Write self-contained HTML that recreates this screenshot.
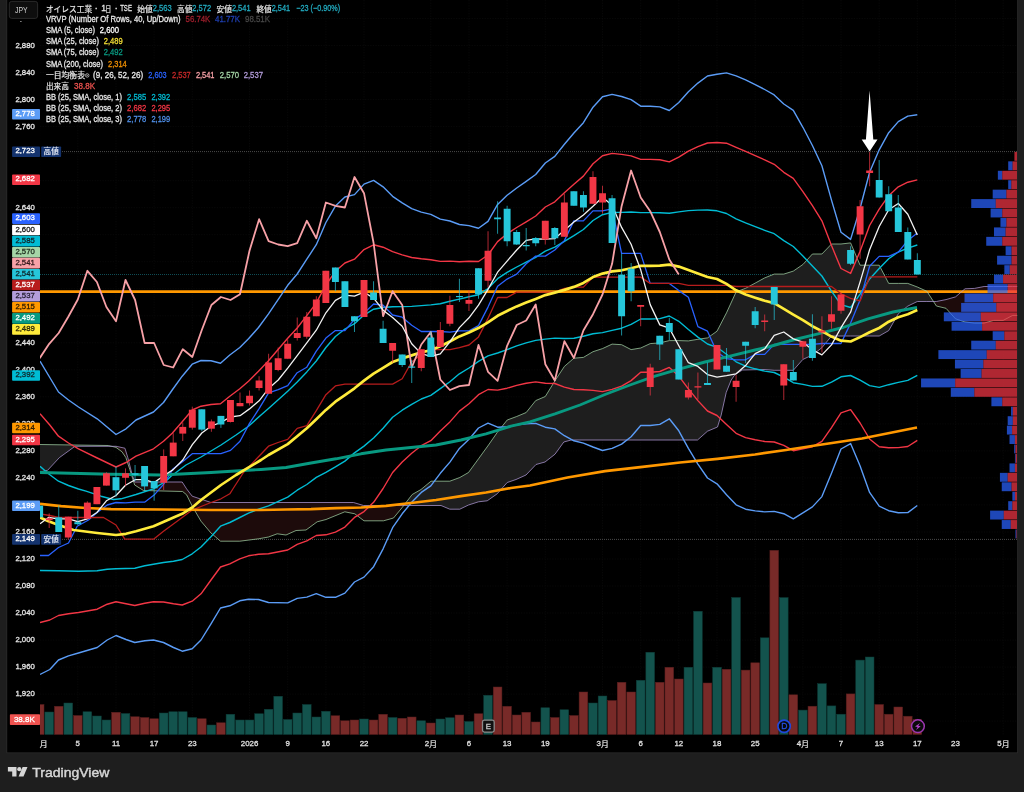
<!DOCTYPE html><html><head><meta charset="utf-8"><title>chart</title><style>html,body{margin:0;padding:0;background:#1e1e1e;overflow:hidden}body{width:1024px;height:792px}</style></head><body><svg width="1024" height="792" viewBox="0 0 1024 792" style="display:block;will-change:transform;font-family:'Liberation Sans',sans-serif"><defs><clipPath id="pane"><rect x="40.0" y="0" width="977.2" height="735.0"/></clipPath></defs><rect width="1024" height="792" fill="#1e1e1e"/><rect x="6.4" y="-1" width="1011.6" height="754.2" fill="#2b2b2b"/><rect x="7.2" y="-1" width="1010.0" height="753.4" fill="#000"/><g clip-path="url(#pane)"><line x1="39.7" x2="39.7" y1="0" y2="735.0" stroke="#0b0b0b" stroke-width="0.7" stroke-dasharray="1.3 1.3"/><line x1="77.8" x2="77.8" y1="0" y2="735.0" stroke="#0b0b0b" stroke-width="0.7" stroke-dasharray="1.3 1.3"/><line x1="116.0" x2="116.0" y1="0" y2="735.0" stroke="#0b0b0b" stroke-width="0.7" stroke-dasharray="1.3 1.3"/><line x1="154.1" x2="154.1" y1="0" y2="735.0" stroke="#0b0b0b" stroke-width="0.7" stroke-dasharray="1.3 1.3"/><line x1="192.3" x2="192.3" y1="0" y2="735.0" stroke="#0b0b0b" stroke-width="0.7" stroke-dasharray="1.3 1.3"/><line x1="249.5" x2="249.5" y1="0" y2="735.0" stroke="#0b0b0b" stroke-width="0.7" stroke-dasharray="1.3 1.3"/><line x1="287.7" x2="287.7" y1="0" y2="735.0" stroke="#0b0b0b" stroke-width="0.7" stroke-dasharray="1.3 1.3"/><line x1="325.9" x2="325.9" y1="0" y2="735.0" stroke="#0b0b0b" stroke-width="0.7" stroke-dasharray="1.3 1.3"/><line x1="364.0" x2="364.0" y1="0" y2="735.0" stroke="#0b0b0b" stroke-width="0.7" stroke-dasharray="1.3 1.3"/><line x1="430.8" x2="430.8" y1="0" y2="735.0" stroke="#0b0b0b" stroke-width="0.7" stroke-dasharray="1.3 1.3"/><line x1="469.0" x2="469.0" y1="0" y2="735.0" stroke="#0b0b0b" stroke-width="0.7" stroke-dasharray="1.3 1.3"/><line x1="507.1" x2="507.1" y1="0" y2="735.0" stroke="#0b0b0b" stroke-width="0.7" stroke-dasharray="1.3 1.3"/><line x1="545.3" x2="545.3" y1="0" y2="735.0" stroke="#0b0b0b" stroke-width="0.7" stroke-dasharray="1.3 1.3"/><line x1="602.5" x2="602.5" y1="0" y2="735.0" stroke="#0b0b0b" stroke-width="0.7" stroke-dasharray="1.3 1.3"/><line x1="640.7" x2="640.7" y1="0" y2="735.0" stroke="#0b0b0b" stroke-width="0.7" stroke-dasharray="1.3 1.3"/><line x1="678.8" x2="678.8" y1="0" y2="735.0" stroke="#0b0b0b" stroke-width="0.7" stroke-dasharray="1.3 1.3"/><line x1="717.0" x2="717.0" y1="0" y2="735.0" stroke="#0b0b0b" stroke-width="0.7" stroke-dasharray="1.3 1.3"/><line x1="755.2" x2="755.2" y1="0" y2="735.0" stroke="#0b0b0b" stroke-width="0.7" stroke-dasharray="1.3 1.3"/><line x1="802.9" x2="802.9" y1="0" y2="735.0" stroke="#0b0b0b" stroke-width="0.7" stroke-dasharray="1.3 1.3"/><line x1="841.0" x2="841.0" y1="0" y2="735.0" stroke="#0b0b0b" stroke-width="0.7" stroke-dasharray="1.3 1.3"/><line x1="879.2" x2="879.2" y1="0" y2="735.0" stroke="#0b0b0b" stroke-width="0.7" stroke-dasharray="1.3 1.3"/><line x1="917.3" x2="917.3" y1="0" y2="735.0" stroke="#0b0b0b" stroke-width="0.7" stroke-dasharray="1.3 1.3"/><line x1="955.5" x2="955.5" y1="0" y2="735.0" stroke="#0b0b0b" stroke-width="0.7" stroke-dasharray="1.3 1.3"/><line x1="1003.2" x2="1003.2" y1="0" y2="735.0" stroke="#0b0b0b" stroke-width="0.7" stroke-dasharray="1.3 1.3"/><line x1="40.0" x2="1017.2" y1="721.1" y2="721.1" stroke="#0b0b0b" stroke-width="0.7" stroke-dasharray="1.3 1.3"/><line x1="40.0" x2="1017.2" y1="694.1" y2="694.1" stroke="#0b0b0b" stroke-width="0.7" stroke-dasharray="1.3 1.3"/><line x1="40.0" x2="1017.2" y1="667.1" y2="667.1" stroke="#0b0b0b" stroke-width="0.7" stroke-dasharray="1.3 1.3"/><line x1="40.0" x2="1017.2" y1="640.1" y2="640.1" stroke="#0b0b0b" stroke-width="0.7" stroke-dasharray="1.3 1.3"/><line x1="40.0" x2="1017.2" y1="613.0" y2="613.0" stroke="#0b0b0b" stroke-width="0.7" stroke-dasharray="1.3 1.3"/><line x1="40.0" x2="1017.2" y1="586.0" y2="586.0" stroke="#0b0b0b" stroke-width="0.7" stroke-dasharray="1.3 1.3"/><line x1="40.0" x2="1017.2" y1="559.0" y2="559.0" stroke="#0b0b0b" stroke-width="0.7" stroke-dasharray="1.3 1.3"/><line x1="40.0" x2="1017.2" y1="532.0" y2="532.0" stroke="#0b0b0b" stroke-width="0.7" stroke-dasharray="1.3 1.3"/><line x1="40.0" x2="1017.2" y1="504.9" y2="504.9" stroke="#0b0b0b" stroke-width="0.7" stroke-dasharray="1.3 1.3"/><line x1="40.0" x2="1017.2" y1="477.9" y2="477.9" stroke="#0b0b0b" stroke-width="0.7" stroke-dasharray="1.3 1.3"/><line x1="40.0" x2="1017.2" y1="450.9" y2="450.9" stroke="#0b0b0b" stroke-width="0.7" stroke-dasharray="1.3 1.3"/><line x1="40.0" x2="1017.2" y1="423.9" y2="423.9" stroke="#0b0b0b" stroke-width="0.7" stroke-dasharray="1.3 1.3"/><line x1="40.0" x2="1017.2" y1="396.8" y2="396.8" stroke="#0b0b0b" stroke-width="0.7" stroke-dasharray="1.3 1.3"/><line x1="40.0" x2="1017.2" y1="369.8" y2="369.8" stroke="#0b0b0b" stroke-width="0.7" stroke-dasharray="1.3 1.3"/><line x1="40.0" x2="1017.2" y1="342.8" y2="342.8" stroke="#0b0b0b" stroke-width="0.7" stroke-dasharray="1.3 1.3"/><line x1="40.0" x2="1017.2" y1="315.8" y2="315.8" stroke="#0b0b0b" stroke-width="0.7" stroke-dasharray="1.3 1.3"/><line x1="40.0" x2="1017.2" y1="288.7" y2="288.7" stroke="#0b0b0b" stroke-width="0.7" stroke-dasharray="1.3 1.3"/><line x1="40.0" x2="1017.2" y1="261.7" y2="261.7" stroke="#0b0b0b" stroke-width="0.7" stroke-dasharray="1.3 1.3"/><line x1="40.0" x2="1017.2" y1="234.7" y2="234.7" stroke="#0b0b0b" stroke-width="0.7" stroke-dasharray="1.3 1.3"/><line x1="40.0" x2="1017.2" y1="207.7" y2="207.7" stroke="#0b0b0b" stroke-width="0.7" stroke-dasharray="1.3 1.3"/><line x1="40.0" x2="1017.2" y1="180.7" y2="180.7" stroke="#0b0b0b" stroke-width="0.7" stroke-dasharray="1.3 1.3"/><line x1="40.0" x2="1017.2" y1="153.6" y2="153.6" stroke="#0b0b0b" stroke-width="0.7" stroke-dasharray="1.3 1.3"/><line x1="40.0" x2="1017.2" y1="126.6" y2="126.6" stroke="#0b0b0b" stroke-width="0.7" stroke-dasharray="1.3 1.3"/><line x1="40.0" x2="1017.2" y1="99.6" y2="99.6" stroke="#0b0b0b" stroke-width="0.7" stroke-dasharray="1.3 1.3"/><line x1="40.0" x2="1017.2" y1="72.6" y2="72.6" stroke="#0b0b0b" stroke-width="0.7" stroke-dasharray="1.3 1.3"/><line x1="40.0" x2="1017.2" y1="45.5" y2="45.5" stroke="#0b0b0b" stroke-width="0.7" stroke-dasharray="1.3 1.3"/><line x1="40.0" x2="1017.2" y1="18.5" y2="18.5" stroke="#0b0b0b" stroke-width="0.7" stroke-dasharray="1.3 1.3"/><line x1="62" x2="1017.2" y1="151.6" y2="151.6" stroke="#6a6a6a" stroke-width="0.8" stroke-dasharray="0.9 1.1"/><line x1="62" x2="1017.2" y1="539.4" y2="539.4" stroke="#6a6a6a" stroke-width="0.8" stroke-dasharray="0.9 1.1"/><line x1="40.0" x2="1017.2" y1="274.5" y2="274.5" stroke="#26c6da" stroke-opacity="0.55" stroke-width="0.8" stroke-dasharray="0.9 1.1"/><path d="M40.0,444.5 L47.6,444.6 L59.4,444.8 L75.0,445.0 L108.3,445.5 L111.5,446.3 L111.5,446.3 L108.3,446.3 L75.0,446.3 L59.4,457.6 L47.6,470.3 L40.0,472.0Z" fill="#1e1e1e"/><path d="M111.5,446.3 L116.0,447.4 L122.0,451.8 L124.9,456.1 L125.9,457.6 L127.8,463.3 L129.8,469.4 L131.8,475.8 L134.7,485.0 L143.5,490.5 L182.2,491.5 L182.6,491.5 L186.6,494.8 L192.2,506.2 L192.4,506.5 L201.0,521.2 L211.0,533.0 L220.5,541.2 L239.8,541.2 L258.5,538.8 L268.5,537.0 L277.2,533.8 L286.0,535.0 L296.0,530.5 L306.0,530.0 L317.2,521.8 L326.0,519.5 L344.8,511.8 L353.5,513.5 L354.8,513.8 L363.5,520.4 L364.0,520.8 L383.5,520.8 L393.5,518.0 L402.2,507.5 L403.8,505.5 L403.8,505.5 L402.2,505.5 L393.5,505.5 L383.5,505.5 L364.0,505.5 L363.5,505.5 L354.8,502.9 L353.5,502.5 L344.8,502.5 L326.0,502.5 L317.2,502.5 L306.0,502.5 L296.0,502.5 L286.0,502.5 L277.2,502.5 L268.5,502.5 L258.5,502.5 L239.8,502.5 L220.5,502.5 L211.0,502.5 L201.0,499.2 L192.4,496.3 L192.2,496.2 L186.6,488.9 L182.6,482.6 L182.2,482.0 L143.5,482.0 L134.7,482.0 L131.8,473.3 L129.8,465.5 L127.8,457.6 L125.9,451.4 L124.9,448.2 L122.0,447.6 L116.0,446.3 L111.5,446.3Z" fill="#1d0b0b"/><path d="M403.8,505.5 L412.2,494.5 L421.0,489.5 L431.0,481.2 L441.0,481.2 L449.8,481.2 L459.8,477.5 L468.5,472.5 L478.5,458.8 L487.2,446.7 L488.5,445.0 L497.2,432.5 L507.2,420.0 L516.0,416.8 L516.7,416.5 L526.0,412.6 L526.2,412.5 L535.7,400.6 L536.0,400.5 L545.0,396.6 L545.3,396.5 L554.8,381.0 L555.0,380.7 L563.8,367.4 L564.4,366.4 L571.2,360.5 L573.9,358.2 L583.4,357.4 L593.0,351.7 L602.5,348.6 L612.1,344.1 L621.6,344.7 L631.1,349.6 L640.7,348.0 L650.2,343.6 L659.8,342.9 L669.3,340.6 L678.8,340.6 L688.4,340.9 L697.5,339.4 L697.9,339.3 L707.5,337.9 L707.5,337.9 L717.0,331.2 L717.5,330.3 L721.2,323.0 L726.2,313.3 L726.5,312.8 L731.2,302.4 L735.0,294.2 L736.1,291.9 L742.5,289.5 L745.6,288.3 L755.2,283.1 L764.0,278.3 L764.7,277.9 L774.2,274.1 L783.8,274.1 L793.3,271.1 L802.9,264.5 L812.4,254.0 L821.9,254.0 L831.5,244.0 L841.0,244.0 L850.6,242.9 L860.1,265.2 L869.6,265.2 L879.2,265.2 L888.7,283.4 L898.3,283.4 L907.8,283.4 L917.3,287.0 L926.9,291.3 L933.5,301.5 L933.5,301.5 L926.9,301.5 L917.3,301.5 L907.8,306.1 L898.3,313.8 L888.7,330.6 L879.2,336.0 L869.6,336.0 L860.1,336.0 L850.6,336.0 L841.0,336.0 L831.5,336.0 L821.9,347.7 L812.4,355.0 L802.9,359.4 L793.3,370.3 L783.8,370.3 L774.2,370.3 L764.7,369.6 L764.0,369.5 L755.2,369.7 L745.6,369.9 L742.5,370.0 L736.1,373.9 L735.0,374.5 L731.2,380.0 L726.5,391.8 L726.2,392.5 L721.2,415.0 L717.5,427.0 L717.0,427.2 L707.5,431.2 L707.5,431.3 L697.9,439.6 L697.5,440.0 L688.4,440.0 L678.8,440.0 L669.3,440.0 L659.8,440.0 L650.2,440.0 L640.7,440.0 L631.1,440.0 L621.6,440.0 L612.1,440.0 L602.5,440.0 L593.0,440.0 L583.4,440.0 L573.9,440.0 L571.2,440.0 L564.4,441.8 L563.8,442.0 L555.0,454.2 L554.8,454.4 L545.3,461.8 L545.0,462.0 L536.0,464.5 L535.7,464.8 L526.2,474.8 L526.0,475.0 L516.7,479.2 L516.0,479.5 L507.2,482.5 L497.2,493.8 L488.5,499.9 L487.2,500.8 L478.5,501.8 L468.5,505.0 L459.8,509.2 L449.8,509.2 L441.0,505.5 L431.0,505.5 L421.0,505.5 L412.2,505.5 L403.8,505.5Z" fill="#1e1e1e"/><path d="M933.5,301.5 L936.4,306.0 L946.0,308.3 L955.5,318.8 L965.0,322.0 L974.6,323.1 L984.1,323.1 L993.7,320.4 L1003.2,320.4 L1012.7,315.4 L1022.3,315.4 L1022.3,286.5 L1012.7,286.5 L1003.2,286.5 L993.7,286.5 L984.1,286.5 L974.6,288.4 L965.0,288.8 L955.5,296.9 L946.0,299.6 L936.4,301.5 L933.5,301.5Z" fill="#1d0b0b"/><rect x="35.31" y="704.50" width="8.7" height="30.00" fill="#782a28" stroke="#541d1c" stroke-width="0.5"/><rect x="44.85" y="712.00" width="8.7" height="22.50" fill="#13534d" stroke="#0d3a36" stroke-width="0.5"/><rect x="54.39" y="706.25" width="8.7" height="28.25" fill="#782a28" stroke="#541d1c" stroke-width="0.5"/><rect x="63.93" y="703.00" width="8.7" height="31.50" fill="#13534d" stroke="#0d3a36" stroke-width="0.5"/><rect x="73.47" y="715.50" width="8.7" height="19.00" fill="#782a28" stroke="#541d1c" stroke-width="0.5"/><rect x="83.01" y="711.75" width="8.7" height="22.75" fill="#13534d" stroke="#0d3a36" stroke-width="0.5"/><rect x="92.55" y="716.00" width="8.7" height="18.50" fill="#13534d" stroke="#0d3a36" stroke-width="0.5"/><rect x="102.09" y="720.00" width="8.7" height="14.50" fill="#13534d" stroke="#0d3a36" stroke-width="0.5"/><rect x="111.63" y="712.25" width="8.7" height="22.25" fill="#782a28" stroke="#541d1c" stroke-width="0.5"/><rect x="121.17" y="713.50" width="8.7" height="21.00" fill="#13534d" stroke="#0d3a36" stroke-width="0.5"/><rect x="130.71" y="716.75" width="8.7" height="17.75" fill="#782a28" stroke="#541d1c" stroke-width="0.5"/><rect x="140.25" y="717.50" width="8.7" height="17.00" fill="#782a28" stroke="#541d1c" stroke-width="0.5"/><rect x="149.79" y="718.75" width="8.7" height="15.75" fill="#782a28" stroke="#541d1c" stroke-width="0.5"/><rect x="159.33" y="713.00" width="8.7" height="21.50" fill="#13534d" stroke="#0d3a36" stroke-width="0.5"/><rect x="168.87" y="711.75" width="8.7" height="22.75" fill="#13534d" stroke="#0d3a36" stroke-width="0.5"/><rect x="178.41" y="711.75" width="8.7" height="22.75" fill="#13534d" stroke="#0d3a36" stroke-width="0.5"/><rect x="187.95" y="717.50" width="8.7" height="17.00" fill="#13534d" stroke="#0d3a36" stroke-width="0.5"/><rect x="197.49" y="718.75" width="8.7" height="15.75" fill="#782a28" stroke="#541d1c" stroke-width="0.5"/><rect x="207.03" y="725.00" width="8.7" height="9.50" fill="#13534d" stroke="#0d3a36" stroke-width="0.5"/><rect x="216.57" y="722.75" width="8.7" height="11.75" fill="#782a28" stroke="#541d1c" stroke-width="0.5"/><rect x="226.11" y="714.25" width="8.7" height="20.25" fill="#13534d" stroke="#0d3a36" stroke-width="0.5"/><rect x="235.65" y="720.00" width="8.7" height="14.50" fill="#13534d" stroke="#0d3a36" stroke-width="0.5"/><rect x="245.19" y="720.00" width="8.7" height="14.50" fill="#13534d" stroke="#0d3a36" stroke-width="0.5"/><rect x="254.73" y="713.75" width="8.7" height="20.75" fill="#13534d" stroke="#0d3a36" stroke-width="0.5"/><rect x="264.27" y="709.25" width="8.7" height="25.25" fill="#13534d" stroke="#0d3a36" stroke-width="0.5"/><rect x="273.81" y="696.25" width="8.7" height="38.25" fill="#13534d" stroke="#0d3a36" stroke-width="0.5"/><rect x="283.35" y="719.50" width="8.7" height="15.00" fill="#13534d" stroke="#0d3a36" stroke-width="0.5"/><rect x="292.89" y="713.00" width="8.7" height="21.50" fill="#13534d" stroke="#0d3a36" stroke-width="0.5"/><rect x="302.43" y="704.50" width="8.7" height="30.00" fill="#13534d" stroke="#0d3a36" stroke-width="0.5"/><rect x="311.97" y="717.00" width="8.7" height="17.50" fill="#13534d" stroke="#0d3a36" stroke-width="0.5"/><rect x="321.51" y="711.25" width="8.7" height="23.25" fill="#13534d" stroke="#0d3a36" stroke-width="0.5"/><rect x="331.05" y="715.75" width="8.7" height="18.75" fill="#782a28" stroke="#541d1c" stroke-width="0.5"/><rect x="340.59" y="720.75" width="8.7" height="13.75" fill="#782a28" stroke="#541d1c" stroke-width="0.5"/><rect x="350.13" y="720.00" width="8.7" height="14.50" fill="#782a28" stroke="#541d1c" stroke-width="0.5"/><rect x="359.67" y="719.00" width="8.7" height="15.50" fill="#13534d" stroke="#0d3a36" stroke-width="0.5"/><rect x="369.21" y="720.00" width="8.7" height="14.50" fill="#782a28" stroke="#541d1c" stroke-width="0.5"/><rect x="378.75" y="714.25" width="8.7" height="20.25" fill="#782a28" stroke="#541d1c" stroke-width="0.5"/><rect x="388.29" y="717.50" width="8.7" height="17.00" fill="#13534d" stroke="#0d3a36" stroke-width="0.5"/><rect x="397.83" y="718.25" width="8.7" height="16.25" fill="#782a28" stroke="#541d1c" stroke-width="0.5"/><rect x="407.37" y="717.00" width="8.7" height="17.50" fill="#782a28" stroke="#541d1c" stroke-width="0.5"/><rect x="416.91" y="720.75" width="8.7" height="13.75" fill="#13534d" stroke="#0d3a36" stroke-width="0.5"/><rect x="426.45" y="723.00" width="8.7" height="11.50" fill="#782a28" stroke="#541d1c" stroke-width="0.5"/><rect x="435.99" y="719.00" width="8.7" height="15.50" fill="#13534d" stroke="#0d3a36" stroke-width="0.5"/><rect x="445.53" y="717.75" width="8.7" height="16.75" fill="#13534d" stroke="#0d3a36" stroke-width="0.5"/><rect x="455.07" y="715.00" width="8.7" height="19.50" fill="#782a28" stroke="#541d1c" stroke-width="0.5"/><rect x="464.61" y="721.50" width="8.7" height="13.00" fill="#13534d" stroke="#0d3a36" stroke-width="0.5"/><rect x="474.15" y="713.75" width="8.7" height="20.75" fill="#782a28" stroke="#541d1c" stroke-width="0.5"/><rect x="483.69" y="695.25" width="8.7" height="39.25" fill="#13534d" stroke="#0d3a36" stroke-width="0.5"/><rect x="493.23" y="687.00" width="8.7" height="47.50" fill="#782a28" stroke="#541d1c" stroke-width="0.5"/><rect x="502.77" y="706.25" width="8.7" height="28.25" fill="#782a28" stroke="#541d1c" stroke-width="0.5"/><rect x="512.31" y="715.00" width="8.7" height="19.50" fill="#782a28" stroke="#541d1c" stroke-width="0.5"/><rect x="521.85" y="712.25" width="8.7" height="22.25" fill="#782a28" stroke="#541d1c" stroke-width="0.5"/><rect x="531.39" y="722.00" width="8.7" height="12.50" fill="#782a28" stroke="#541d1c" stroke-width="0.5"/><rect x="540.93" y="707.75" width="8.7" height="26.75" fill="#13534d" stroke="#0d3a36" stroke-width="0.5"/><rect x="550.47" y="717.50" width="8.7" height="17.00" fill="#782a28" stroke="#541d1c" stroke-width="0.5"/><rect x="560.01" y="709.75" width="8.7" height="24.75" fill="#13534d" stroke="#0d3a36" stroke-width="0.5"/><rect x="569.55" y="715.50" width="8.7" height="19.00" fill="#782a28" stroke="#541d1c" stroke-width="0.5"/><rect x="579.09" y="692.00" width="8.7" height="42.50" fill="#782a28" stroke="#541d1c" stroke-width="0.5"/><rect x="588.63" y="703.00" width="8.7" height="31.50" fill="#13534d" stroke="#0d3a36" stroke-width="0.5"/><rect x="598.17" y="696.00" width="8.7" height="38.50" fill="#13534d" stroke="#0d3a36" stroke-width="0.5"/><rect x="607.71" y="700.50" width="8.7" height="34.00" fill="#782a28" stroke="#541d1c" stroke-width="0.5"/><rect x="617.25" y="682.25" width="8.7" height="52.25" fill="#782a28" stroke="#541d1c" stroke-width="0.5"/><rect x="626.79" y="692.00" width="8.7" height="42.50" fill="#782a28" stroke="#541d1c" stroke-width="0.5"/><rect x="636.33" y="680.25" width="8.7" height="54.25" fill="#13534d" stroke="#0d3a36" stroke-width="0.5"/><rect x="645.87" y="652.25" width="8.7" height="82.25" fill="#13534d" stroke="#0d3a36" stroke-width="0.5"/><rect x="655.41" y="682.25" width="8.7" height="52.25" fill="#782a28" stroke="#541d1c" stroke-width="0.5"/><rect x="664.95" y="667.25" width="8.7" height="67.25" fill="#782a28" stroke="#541d1c" stroke-width="0.5"/><rect x="674.49" y="679.00" width="8.7" height="55.50" fill="#782a28" stroke="#541d1c" stroke-width="0.5"/><rect x="684.03" y="667.25" width="8.7" height="67.25" fill="#13534d" stroke="#0d3a36" stroke-width="0.5"/><rect x="693.57" y="611.25" width="8.7" height="123.25" fill="#13534d" stroke="#0d3a36" stroke-width="0.5"/><rect x="703.11" y="683.00" width="8.7" height="51.50" fill="#782a28" stroke="#541d1c" stroke-width="0.5"/><rect x="712.65" y="667.25" width="8.7" height="67.25" fill="#13534d" stroke="#0d3a36" stroke-width="0.5"/><rect x="722.19" y="669.25" width="8.7" height="65.25" fill="#782a28" stroke="#541d1c" stroke-width="0.5"/><rect x="731.73" y="597.50" width="8.7" height="137.00" fill="#13534d" stroke="#0d3a36" stroke-width="0.5"/><rect x="741.27" y="670.10" width="8.7" height="64.40" fill="#782a28" stroke="#541d1c" stroke-width="0.5"/><rect x="750.81" y="662.80" width="8.7" height="71.70" fill="#782a28" stroke="#541d1c" stroke-width="0.5"/><rect x="760.35" y="637.80" width="8.7" height="96.70" fill="#13534d" stroke="#0d3a36" stroke-width="0.5"/><rect x="769.89" y="550.30" width="8.7" height="184.20" fill="#782a28" stroke="#541d1c" stroke-width="0.5"/><rect x="779.43" y="597.60" width="8.7" height="136.90" fill="#13534d" stroke="#0d3a36" stroke-width="0.5"/><rect x="788.97" y="694.80" width="8.7" height="39.70" fill="#782a28" stroke="#541d1c" stroke-width="0.5"/><rect x="798.51" y="710.10" width="8.7" height="24.40" fill="#13534d" stroke="#0d3a36" stroke-width="0.5"/><rect x="808.05" y="706.20" width="8.7" height="28.30" fill="#782a28" stroke="#541d1c" stroke-width="0.5"/><rect x="817.59" y="683.70" width="8.7" height="50.80" fill="#13534d" stroke="#0d3a36" stroke-width="0.5"/><rect x="827.13" y="705.90" width="8.7" height="28.60" fill="#13534d" stroke="#0d3a36" stroke-width="0.5"/><rect x="836.67" y="714.20" width="8.7" height="20.30" fill="#13534d" stroke="#0d3a36" stroke-width="0.5"/><rect x="846.21" y="693.90" width="8.7" height="40.60" fill="#782a28" stroke="#541d1c" stroke-width="0.5"/><rect x="855.75" y="660.10" width="8.7" height="74.40" fill="#13534d" stroke="#0d3a36" stroke-width="0.5"/><rect x="865.29" y="657.00" width="8.7" height="77.50" fill="#13534d" stroke="#0d3a36" stroke-width="0.5"/><rect x="874.83" y="704.50" width="8.7" height="30.00" fill="#782a28" stroke="#541d1c" stroke-width="0.5"/><rect x="884.37" y="714.20" width="8.7" height="20.30" fill="#782a28" stroke="#541d1c" stroke-width="0.5"/><rect x="893.91" y="707.00" width="8.7" height="27.50" fill="#782a28" stroke="#541d1c" stroke-width="0.5"/><rect x="903.45" y="716.20" width="8.7" height="18.30" fill="#782a28" stroke="#541d1c" stroke-width="0.5"/><rect x="912.99" y="719.50" width="8.7" height="15.00" fill="#782a28" stroke="#541d1c" stroke-width="0.5"/><line x1="40.0" x2="1017.2" y1="291.6" y2="291.6" stroke="#ff9800" stroke-width="2.7"/><path d="M40.0,444.5 L108.3,445.5 L116.0,447.4 L122.0,451.8 L125.9,457.6 L129.8,469.4 L134.7,485.0 L143.5,490.5 L182.6,491.5 L186.6,494.8 L192.4,506.5 L201.0,521.2 L211.0,533.0 L220.5,541.2 L239.8,541.2 L258.5,538.8 L268.5,537.0 L277.2,533.8 L286.0,535.0 L296.0,530.5 L306.0,530.0 L317.2,521.8 L326.0,519.5 L344.8,511.8 L354.8,513.8 L364.0,520.8 L383.5,520.8 L393.5,518.0 L402.2,507.5 L412.2,494.5 L421.0,489.5 L431.0,481.2 L449.8,481.2 L459.8,477.5 L468.5,472.5 L478.5,458.8 L488.5,445.0 L497.2,432.5 L507.2,420.0 L516.7,416.5 L526.2,412.5 L535.7,400.6 L545.3,396.5 L554.8,381.0 L564.4,366.4 L573.9,358.2 L583.4,357.4 L593.0,351.7 L602.5,348.6 L612.1,344.1 L621.6,344.7 L631.1,349.6 L640.7,348.0 L650.2,343.6 L659.8,342.9 L669.3,340.6 L678.8,340.6 L688.4,340.9 L697.9,339.3 L707.5,337.9 L717.0,331.2 L726.5,312.8 L736.1,291.9 L745.6,288.3 L755.2,283.1 L764.7,277.9 L774.2,274.1 L783.8,274.1 L793.3,271.1 L802.9,264.5 L812.4,254.0 L821.9,254.0 L831.5,244.0 L841.0,244.0 L850.6,242.9 L860.1,265.2 L869.6,265.2 L879.2,265.2 L888.7,283.4 L898.3,283.4 L907.8,283.4 L917.3,287.0 L926.9,291.3 L936.4,306.0 L946.0,308.3 L955.5,318.8 L965.0,322.0 L974.6,323.1 L984.1,323.1 L993.7,320.4 L1003.2,320.4 L1012.7,315.4 L1022.3,315.4" fill="none" stroke="#a5d6a7" stroke-width="1.0" stroke-linejoin="round" stroke-linecap="butt" opacity="0.72"/><path d="M40.0,472.0 L47.6,470.3 L59.4,457.6 L75.0,446.3 L116.0,446.3 L124.9,448.2 L127.8,457.6 L131.8,473.3 L134.7,482.0 L182.2,482.0 L186.6,488.9 L192.2,496.2 L211.0,502.5 L353.5,502.5 L363.5,505.5 L441.0,505.5 L449.8,509.2 L459.8,509.2 L468.5,505.0 L478.5,501.8 L487.2,500.8 L497.2,493.8 L507.2,482.5 L516.0,479.5 L526.0,475.0 L536.0,464.5 L545.0,462.0 L555.0,454.2 L563.8,442.0 L571.2,440.0 L697.5,440.0 L707.5,431.2 L717.5,427.0 L721.2,415.0 L726.2,392.5 L731.2,380.0 L735.0,374.5 L742.5,370.0 L764.0,369.5 L774.2,370.3 L783.8,370.3 L793.3,370.3 L802.9,359.4 L812.4,355.0 L821.9,347.7 L831.5,336.0 L841.0,336.0 L850.6,336.0 L860.1,336.0 L869.6,336.0 L879.2,336.0 L888.7,330.6 L898.3,313.8 L907.8,306.1 L917.3,301.5 L926.9,301.5 L936.4,301.5 L946.0,299.6 L955.5,296.9 L965.0,288.8 L974.6,288.4 L984.1,286.5 L993.7,286.5 L1003.2,286.5 L1012.7,286.5 L1022.3,286.5" fill="none" stroke="#b39ddb" stroke-width="1.0" stroke-linejoin="round" stroke-linecap="butt" opacity="0.72"/><path d="M40.0,361.2 L49.8,377.5 L58.5,392.0 L68.5,400.0 L78.5,407.0 L97.2,418.8 L116.0,434.5 L126.0,428.8 L136.0,420.0 L153.5,412.0 L163.5,402.5 L172.2,390.0 L182.2,376.2 L192.2,364.2 L201.0,360.5 L211.0,360.8 L220.5,363.2 L229.8,355.0 L239.8,347.5 L248.5,338.8 L258.5,327.5 L268.5,313.8 L287.7,285.3 L297.2,274.0 L306.8,259.2 L316.3,244.7 L325.9,222.5 L335.4,206.1 L344.9,197.0 L354.5,194.6 L364.0,184.1 L373.6,180.4 L383.1,186.8 L392.6,196.3 L402.2,202.9 L411.7,208.6 L421.3,212.1 L430.8,214.4 L440.3,219.1 L449.9,221.0 L459.4,224.5 L469.0,225.6 L478.5,228.2 L488.0,221.4 L497.6,204.4 L507.1,195.2 L516.7,188.0 L526.2,181.4 L535.7,174.5 L545.3,163.0 L554.8,156.4 L564.4,144.2 L573.9,133.0 L583.4,122.7 L593.0,107.2 L602.5,96.8 L612.1,94.4 L621.6,96.5 L631.1,99.7 L640.7,106.2 L650.2,106.2 L659.8,106.9 L669.3,110.5 L678.8,102.5 L688.4,91.7 L697.9,83.1 L707.5,76.0 L717.0,74.3 L726.5,72.9 L736.1,75.8 L745.6,79.8 L755.2,84.6 L764.7,89.5 L774.2,94.9 L783.8,104.0 L793.3,110.3 L802.9,127.3 L812.4,145.5 L821.9,165.7 L831.5,200.1 L841.0,232.3 L850.6,239.4 L860.1,208.2 L869.6,172.2 L879.2,149.8 L888.7,132.7 L898.3,121.6 L907.8,116.1 L917.3,114.7" fill="none" stroke="#5b9cf6" stroke-width="1.4" stroke-linejoin="round" stroke-linecap="butt" /><path d="M40.0,674.5 L49.8,669.5 L58.5,660.0 L68.5,655.8 L78.5,653.0 L97.2,647.5 L107.2,640.0 L116.0,635.5 L126.0,639.5 L134.8,642.5 L144.8,640.8 L153.5,640.0 L163.5,642.5 L173.5,647.5 L182.2,651.2 L192.2,648.8 L201.0,640.0 L211.0,623.8 L220.5,608.0 L229.8,605.8 L239.8,600.8 L248.5,599.2 L258.5,599.5 L268.5,602.5 L287.7,602.9 L297.2,598.4 L306.8,597.1 L316.3,593.7 L325.9,597.3 L335.4,597.3 L344.9,593.1 L354.5,582.0 L364.0,577.1 L373.6,566.7 L383.1,548.8 L392.6,527.7 L402.2,513.8 L411.7,502.2 L421.3,492.4 L430.8,485.9 L440.3,473.3 L449.9,462.1 L459.4,448.4 L469.0,439.3 L478.5,428.0 L488.0,423.2 L497.6,427.2 L507.1,426.8 L516.7,424.8 L526.2,423.7 L535.7,423.4 L545.3,427.2 L554.8,428.9 L564.4,435.7 L573.9,440.8 L583.4,443.1 L593.0,447.0 L602.5,450.5 L612.1,448.4 L621.6,444.1 L631.1,436.8 L640.7,425.5 L650.2,425.5 L659.8,424.4 L669.3,418.8 L678.8,430.8 L688.4,448.3 L697.9,464.1 L707.5,478.0 L717.0,483.8 L726.5,494.8 L736.1,504.8 L745.6,509.2 L755.2,510.9 L764.7,511.9 L774.2,511.4 L783.8,513.7 L793.3,518.8 L802.9,512.9 L812.4,506.9 L821.9,496.6 L831.5,473.2 L841.0,449.0 L850.6,443.6 L860.1,466.0 L869.6,492.4 L879.2,506.1 L888.7,510.7 L898.3,512.8 L907.8,512.6 L917.3,505.5" fill="none" stroke="#5b9cf6" stroke-width="1.4" stroke-linejoin="round" stroke-linecap="butt" /><path d="M40.0,413.8 L49.8,425.0 L58.5,436.2 L68.5,443.0 L78.5,448.8 L97.2,458.0 L116.0,467.0 L126.0,462.5 L136.0,456.2 L153.5,448.8 L163.5,441.2 L172.2,433.2 L182.2,421.8 L192.2,410.0 L201.0,406.2 L211.0,404.5 L220.5,403.8 L229.8,396.2 L239.8,388.8 L248.5,381.2 L258.5,371.2 L268.5,360.8 L287.7,338.3 L297.2,328.0 L306.8,315.6 L316.3,302.8 L325.9,285.0 L335.4,271.3 L344.9,263.0 L354.5,259.2 L364.0,249.6 L373.6,244.8 L383.1,247.2 L392.6,251.6 L402.2,254.8 L411.7,257.5 L421.3,258.8 L430.8,259.7 L440.3,261.4 L449.9,261.1 L459.4,261.8 L469.0,261.2 L478.5,261.5 L488.0,255.0 L497.6,241.6 L507.1,233.8 L516.7,227.5 L526.2,221.8 L535.7,216.0 L545.3,207.0 L554.8,201.8 L564.4,192.8 L573.9,184.3 L583.4,176.1 L593.0,163.8 L602.5,155.7 L612.1,153.4 L621.6,154.4 L631.1,155.9 L640.7,159.4 L650.2,159.4 L659.8,159.8 L669.3,161.9 L678.8,157.2 L688.4,151.1 L697.9,146.6 L707.5,143.0 L717.0,142.5 L726.5,143.2 L736.1,147.3 L745.6,151.4 L755.2,155.6 L764.7,159.9 L774.2,164.3 L783.8,172.3 L793.3,178.4 L802.9,191.6 L812.4,205.7 L821.9,220.8 L831.5,245.6 L841.0,268.5 L850.6,273.4 L860.1,251.2 L869.6,225.5 L879.2,209.2 L888.7,195.7 L898.3,186.8 L907.8,182.2 L917.3,179.9" fill="none" stroke="#f23645" stroke-width="1.4" stroke-linejoin="round" stroke-linecap="butt" /><path d="M40.0,622.5 L49.8,620.0 L58.5,615.5 L68.5,613.8 L78.5,612.5 L97.2,609.2 L107.2,604.2 L116.0,601.8 L126.0,603.8 L134.8,605.5 L144.8,603.2 L153.5,601.8 L163.5,602.0 L173.5,603.8 L182.2,605.0 L192.2,601.2 L201.0,593.8 L211.0,580.0 L220.5,567.0 L229.8,563.8 L239.8,558.8 L248.5,555.8 L258.5,554.2 L268.5,553.8 L287.7,550.0 L297.2,544.3 L306.8,540.8 L316.3,535.5 L325.9,534.8 L335.4,532.1 L344.9,527.1 L354.5,517.4 L364.0,511.6 L373.6,502.3 L383.1,488.5 L392.6,472.5 L402.2,462.0 L411.7,453.3 L421.3,445.7 L430.8,440.7 L440.3,430.9 L449.9,421.9 L459.4,411.1 L469.0,403.7 L478.5,394.7 L488.0,389.5 L497.6,390.1 L507.1,388.2 L516.7,385.4 L526.2,383.3 L535.7,381.9 L545.3,383.2 L554.8,383.5 L564.4,387.1 L573.9,389.5 L583.4,389.7 L593.0,390.4 L602.5,391.6 L612.1,389.4 L621.6,386.2 L631.1,380.6 L640.7,372.2 L650.2,372.2 L659.8,371.5 L669.3,367.4 L678.8,376.1 L688.4,388.9 L697.9,400.6 L707.5,411.0 L717.0,415.5 L726.5,424.5 L736.1,433.3 L745.6,437.6 L755.2,439.8 L764.7,441.5 L774.2,442.0 L783.8,445.4 L793.3,450.7 L802.9,448.7 L812.4,446.7 L821.9,441.4 L831.5,427.6 L841.0,412.9 L850.6,409.6 L860.1,423.0 L869.6,439.0 L879.2,446.7 L888.7,447.7 L898.3,447.6 L907.8,446.5 L917.3,440.4" fill="none" stroke="#f23645" stroke-width="1.4" stroke-linejoin="round" stroke-linecap="butt" /><path d="M40.0,466.2 L48.5,473.8 L58.5,481.2 L68.5,485.5 L78.5,489.0 L86.0,491.2 L101.0,496.2 L113.5,499.5 L121.0,498.8 L136.0,494.5 L153.5,488.8 L166.0,481.0 L171.0,476.2 L186.0,465.0 L201.0,457.0 L221.0,445.0 L236.0,435.0 L248.5,426.2 L261.0,415.0 L268.5,408.5 L287.7,391.2 L297.2,382.1 L306.8,371.9 L316.3,361.0 L325.9,347.5 L335.4,336.5 L344.9,329.0 L354.5,323.7 L364.0,315.1 L373.6,309.2 L383.1,307.5 L392.6,306.8 L402.2,306.6 L411.7,306.4 L421.3,305.6 L430.8,304.9 L440.3,303.8 L449.9,301.3 L459.4,299.1 L469.0,296.8 L478.5,294.8 L488.0,288.6 L497.6,278.7 L507.1,272.4 L516.7,267.0 L526.2,262.1 L535.7,257.4 L545.3,251.1 L554.8,247.2 L564.4,241.3 L573.9,235.6 L583.4,229.5 L593.0,220.5 L602.5,214.7 L612.1,212.4 L621.6,212.4 L631.1,212.0 L640.7,212.6 L650.2,212.6 L659.8,212.7 L669.3,213.2 L678.8,211.9 L688.4,210.6 L697.9,210.1 L707.5,210.0 L717.0,210.8 L726.5,213.5 L736.1,218.8 L745.6,222.9 L755.2,226.7 L764.7,230.3 L774.2,233.7 L783.8,240.6 L793.3,246.5 L802.9,255.9 L812.4,266.0 L821.9,276.0 L831.5,291.1 L841.0,304.6 L850.6,307.5 L860.1,294.1 L869.6,278.9 L879.2,268.6 L888.7,258.7 L898.3,252.0 L907.8,248.2 L917.3,245.0" fill="none" stroke="#00bcd4" stroke-width="1.4" stroke-linejoin="round" stroke-linecap="butt" /><path d="M40.0,570.5 L58.5,570.8 L78.5,571.2 L97.2,570.8 L107.2,569.2 L116.0,568.8 L134.8,568.2 L144.8,565.8 L163.5,562.5 L173.5,561.2 L182.2,559.5 L192.2,553.8 L201.0,547.0 L211.0,536.8 L220.5,526.2 L229.8,522.5 L239.8,517.5 L248.5,513.2 L258.5,509.2 L268.5,505.8 L287.7,497.1 L297.2,490.2 L306.8,484.5 L316.3,477.4 L325.9,472.4 L335.4,466.9 L344.9,461.1 L354.5,452.9 L364.0,446.1 L373.6,438.0 L383.1,428.2 L392.6,417.3 L402.2,410.2 L411.7,404.3 L421.3,399.0 L430.8,395.4 L440.3,388.6 L449.9,381.7 L459.4,373.8 L469.0,368.0 L478.5,361.4 L488.0,355.9 L497.6,353.0 L507.1,349.6 L516.7,345.9 L526.2,342.9 L535.7,340.4 L545.3,339.1 L554.8,338.1 L564.4,338.5 L573.9,338.2 L583.4,336.3 L593.0,333.8 L602.5,332.6 L612.1,330.4 L621.6,328.2 L631.1,324.4 L640.7,319.0 L650.2,319.0 L659.8,318.6 L669.3,316.0 L678.8,321.3 L688.4,329.5 L697.9,337.1 L707.5,344.0 L717.0,347.3 L726.5,354.2 L736.1,361.8 L745.6,366.1 L755.2,368.8 L764.7,371.1 L774.2,372.5 L783.8,377.2 L793.3,382.7 L802.9,384.4 L812.4,386.4 L821.9,386.3 L831.5,382.1 L841.0,376.8 L850.6,375.5 L860.1,380.1 L869.6,385.6 L879.2,387.4 L888.7,384.7 L898.3,382.4 L907.8,380.4 L917.3,375.3" fill="none" stroke="#00bcd4" stroke-width="1.4" stroke-linejoin="round" stroke-linecap="butt" /><path d="M40.0,555.5 L48.5,555.5 L58.5,547.5 L68.5,543.0 L77.2,526.2 L88.5,520.0 L97.2,512.5 L107.2,505.0 L116.0,502.5 L125.5,502.9 L135.1,502.2 L144.6,502.2 L154.1,495.1 L163.7,484.1 L173.2,468.7 L182.8,461.5 L192.3,453.7 L201.8,453.7 L211.4,453.7 L220.9,453.7 L230.5,450.4 L240.0,441.2 L249.5,423.4 L259.1,408.6 L268.6,392.8 L278.2,389.6 L287.7,385.6 L297.2,372.7 L306.8,367.2 L316.3,351.2 L325.9,338.1 L335.4,330.6 L344.9,330.6 L354.5,319.4 L364.0,313.1 L373.6,304.0 L383.1,305.2 L392.6,315.0 L402.2,317.2 L411.7,325.2 L421.3,331.5 L430.8,331.5 L440.3,331.5 L449.9,332.1 L459.4,330.9 L469.0,330.9 L478.5,325.6 L488.0,307.1 L497.6,286.2 L507.1,279.1 L516.7,274.1 L526.2,263.8 L535.7,256.1 L545.3,256.1 L554.8,250.0 L564.4,240.6 L573.9,220.9 L583.4,220.9 L593.0,210.9 L602.5,210.9 L612.1,208.8 L621.6,253.4 L631.1,253.4 L640.7,253.4 L650.2,283.4 L659.8,283.4 L669.3,283.4 L678.8,290.6 L688.4,297.2 L697.9,326.6 L707.5,331.2 L717.0,352.2 L726.5,358.6 L736.1,359.8 L745.6,359.8 L755.2,354.4 L764.7,354.4 L774.2,344.4 L783.8,344.4 L793.3,344.4 L802.9,344.4 L812.4,344.4 L821.9,343.5 L831.5,343.5 L841.0,343.5 L850.6,323.1 L860.1,300.0 L869.6,266.2 L879.2,256.4 L888.7,256.4 L898.3,252.2 L907.8,240.4 L917.3,232.9" fill="none" stroke="#2962ff" stroke-width="1.3" stroke-linejoin="round" stroke-linecap="butt" /><path d="M40.0,513.8 L49.8,515.5 L58.5,517.5 L103.5,517.5 L116.0,525.0 L124.8,539.2 L153.5,539.2 L163.5,531.2 L182.2,517.5 L192.2,510.0 L211.0,502.5 L221.0,498.8 L229.8,493.8 L233.5,488.0 L243.5,472.5 L268.5,446.2 L278.0,442.5 L287.7,439.4 L297.2,428.4 L306.8,425.7 L316.3,410.7 L325.9,394.7 L335.4,385.9 L344.9,384.1 L354.5,384.1 L364.0,384.1 L373.6,384.1 L383.1,384.1 L392.6,384.1 L402.2,378.8 L411.7,361.9 L421.3,354.2 L430.8,349.6 L440.3,349.6 L449.9,349.6 L459.4,347.7 L469.0,345.0 L478.5,336.9 L488.0,318.4 L497.6,297.5 L507.1,297.5 L516.7,292.1 L526.2,292.1 L535.7,292.1 L545.3,292.1 L554.8,292.1 L564.4,288.4 L573.9,287.1 L583.4,287.1 L593.0,277.1 L602.5,277.1 L612.1,277.1 L621.6,277.1 L631.1,277.1 L640.7,277.1 L650.2,283.4 L659.8,283.4 L669.3,283.4 L678.8,283.4 L688.4,285.4 L697.9,285.4 L707.5,285.4 L717.0,285.4 L726.5,285.4 L736.1,286.5 L745.6,286.5 L755.2,286.5 L764.7,286.5 L774.2,286.5 L783.8,286.5 L793.3,286.5 L802.9,286.5 L812.4,286.5 L821.9,286.5 L831.5,286.5 L841.0,293.8 L850.6,298.4 L860.1,300.9 L869.6,276.9 L879.2,276.9 L888.7,276.9 L898.3,276.9 L907.8,276.9 L917.3,276.9" fill="none" stroke="#b71c1c" stroke-width="1.3" stroke-linejoin="round" stroke-linecap="butt" /><path d="M40.0,503.8 L61.0,506.2 L86.0,508.0 L111.0,509.2 L161.0,509.5 L211.0,510.0 L261.0,510.0 L286.0,509.5 L311.0,509.2 L336.0,508.2 L361.0,507.5 L386.0,505.8 L411.0,503.0 L436.0,500.0 L461.0,496.2 L486.0,492.5 L511.0,488.0 L530.0,485.5 L567.5,477.5 L605.0,471.2 L642.5,466.8 L680.0,462.5 L717.5,458.8 L755.0,454.5 L786.0,450.0 L812.0,446.0 L862.0,438.5 L917.0,427.5" fill="none" stroke="#ff9800" stroke-width="2.7" stroke-linejoin="round" stroke-linecap="butt" /><path d="M40.0,472.5 L111.0,474.2 L161.0,475.0 L211.0,472.5 L261.0,469.5 L286.0,467.5 L311.0,463.0 L336.0,458.8 L361.0,453.8 L386.0,450.0 L411.0,447.5 L436.0,445.0 L461.0,440.0 L486.0,433.8 L511.0,426.2 L530.0,421.8 L555.0,413.8 L580.0,405.0 L605.0,394.5 L630.0,385.0 L655.0,376.2 L680.0,368.8 L705.0,362.0 L730.0,356.2 L755.0,350.0 L768.0,347.0 L793.0,340.0 L818.0,333.8 L843.0,327.5 L868.0,318.8 L893.0,312.0 L917.0,307.5" fill="none" stroke="#089981" stroke-width="2.9" stroke-linejoin="round" stroke-linecap="butt" /><path d="M40.0,517.5 L48.5,521.2 L58.5,525.0 L73.5,530.0 L97.2,533.0 L116.0,535.0 L126.0,533.8 L136.0,531.2 L153.5,526.2 L173.5,517.5 L182.2,513.8 L192.2,507.5 L201.0,500.0 L211.0,492.5 L221.0,485.0 L236.0,475.0 L261.0,460.0 L268.5,455.0 L287.7,444.1 L297.2,436.2 L306.8,428.2 L316.3,419.2 L325.9,409.9 L335.4,401.7 L344.9,395.1 L354.5,388.3 L364.0,380.6 L373.6,373.6 L383.1,367.8 L392.6,362.0 L402.2,358.4 L411.7,355.4 L421.3,352.3 L430.8,350.2 L440.3,346.2 L449.9,341.5 L459.4,336.4 L469.0,332.4 L478.5,328.1 L488.0,322.3 L497.6,315.8 L507.1,311.0 L516.7,306.4 L526.2,302.5 L535.7,298.9 L545.3,295.1 L554.8,292.6 L564.4,289.9 L573.9,286.9 L583.4,282.9 L593.0,277.1 L602.5,273.6 L612.1,271.4 L621.6,270.3 L631.1,268.2 L640.7,265.8 L650.2,265.8 L659.8,265.6 L669.3,264.6 L678.8,266.6 L688.4,270.0 L697.9,273.6 L707.5,277.0 L717.0,279.0 L726.5,283.9 L736.1,290.3 L745.6,294.5 L755.2,297.7 L764.7,300.7 L774.2,303.1 L783.8,308.9 L793.3,314.6 L802.9,320.1 L812.4,326.2 L821.9,331.1 L831.5,336.6 L841.0,340.7 L850.6,341.5 L860.1,337.1 L869.6,332.3 L879.2,328.0 L888.7,321.7 L898.3,317.2 L907.8,314.3 L917.3,310.1" fill="none" stroke="#ffeb3b" stroke-width="2.7" stroke-linejoin="round" stroke-linecap="butt" /><path d="M39.7,358.2 L49.2,343.8 L58.7,333.0 L68.3,316.8 L77.8,299.5 L87.4,270.8 L96.9,282.0 L106.4,307.0 L116.0,321.2 L125.5,280.0 L135.1,300.0 L144.6,343.0 L154.1,343.0 L163.7,365.0 L173.2,367.5 L182.8,349.2 L192.3,357.0 L201.8,330.0 L211.4,305.0 L220.9,297.0 L230.5,300.0 L240.0,294.2 L249.5,250.8 L259.1,219.2 L268.6,241.2 L278.2,244.5 L287.7,246.2 L297.2,243.2 L306.8,220.8 L316.3,238.2 L325.9,202.5 L335.4,205.8 L344.9,207.5 L354.5,177.0 L364.0,193.2 L373.6,243.0 L383.1,316.2 L392.6,291.2 L402.2,305.0 L411.7,367.5 L421.3,344.5 L430.8,332.0 L440.3,379.5 L449.9,390.0 L459.4,386.2 L469.0,385.0 L478.5,345.0 L488.0,371.8 L497.6,380.8 L507.1,345.8 L516.7,325.0 L526.2,320.5 L535.7,304.5 L545.3,364.2 L554.8,380.5 L564.4,341.2 L573.9,358.0 L583.4,330.5 L593.0,314.2 L602.5,294.5 L612.1,263.8 L621.6,206.2 L631.1,170.5 L640.7,197.5 L650.2,211.2 L659.8,232.0 L669.3,259.5 L678.8,274.5" fill="none" stroke="#f7a1a7" stroke-width="1.8" stroke-linejoin="round" stroke-linecap="butt" /><path d="M40.0,523.8 L48.5,517.5 L58.5,518.8 L68.5,518.8 L77.8,521.7 L87.4,518.8 L96.9,512.5 L106.4,500.8 L116.0,495.5 L125.5,485.3 L135.1,479.7 L144.6,479.6 L154.1,482.6 L163.7,475.8 L173.2,469.6 L182.8,460.0 L192.3,444.7 L201.8,433.0 L211.4,426.0 L220.9,422.4 L230.5,417.0 L240.0,415.7 L249.5,408.9 L259.1,400.8 L268.6,388.4 L278.2,380.0 L287.7,368.1 L297.2,355.6 L306.8,342.9 L316.3,330.2 L325.9,312.8 L335.4,300.4 L344.9,295.2 L354.5,296.1 L364.0,292.2 L373.6,298.1 L383.1,310.2 L392.6,317.4 L402.2,326.2 L411.7,343.7 L421.3,353.6 L430.8,356.4 L440.3,353.8 L449.9,341.8 L459.4,327.6 L469.0,317.8 L478.5,305.2 L488.0,289.4 L497.6,272.2 L507.1,261.1 L516.7,250.0 L526.2,240.4 L535.7,238.9 L545.3,239.2 L554.8,238.6 L564.4,230.2 L573.9,222.1 L583.4,214.9 L593.0,206.2 L602.5,197.2 L612.1,205.3 L621.6,227.4 L631.1,244.2 L640.7,269.8 L650.2,304.6 L659.8,324.9 L669.3,328.1 L678.8,345.7 L688.4,362.7 L697.9,366.4 L707.5,374.6 L717.0,377.1 L726.5,375.6 L736.1,373.8 L745.6,365.6 L755.2,353.6 L764.7,348.8 L774.2,335.3 L783.8,332.0 L793.3,338.9 L802.9,342.2 L812.4,349.7 L821.9,354.9 L831.5,344.9 L841.0,327.7 L850.6,312.2 L860.1,281.9 L869.6,249.8 L879.2,226.5 L888.7,209.8 L898.3,203.5 L907.8,214.2 L917.3,234.9" fill="none" stroke="#f2f2f2" stroke-width="1.3" stroke-linejoin="round" stroke-linecap="butt" /><line x1="39.66" x2="39.66" y1="505.60" y2="517.30" stroke="#26c6da" stroke-width="0.72"/><rect x="36.21" y="505.60" width="6.9" height="11.70" fill="#26c6da"/><line x1="49.20" x2="49.20" y1="513.40" y2="528.00" stroke="#f23645" stroke-width="0.72"/><rect x="45.75" y="518.30" width="6.9" height="1.90" fill="#f23645"/><line x1="58.74" x2="58.74" y1="505.60" y2="532.00" stroke="#26c6da" stroke-width="0.72"/><rect x="55.29" y="517.30" width="6.9" height="14.70" fill="#26c6da"/><line x1="68.28" x2="68.28" y1="516.70" y2="539.40" stroke="#f23645" stroke-width="0.72"/><rect x="64.83" y="516.70" width="6.9" height="20.80" fill="#f23645"/><line x1="77.82" x2="77.82" y1="510.80" y2="525.10" stroke="#26c6da" stroke-width="0.72"/><rect x="74.37" y="522.20" width="6.9" height="2.00" fill="#26c6da"/><line x1="87.36" x2="87.36" y1="501.30" y2="518.70" stroke="#f23645" stroke-width="0.72"/><rect x="83.91" y="502.60" width="6.9" height="16.10" fill="#f23645"/><line x1="96.90" x2="96.90" y1="487.00" y2="504.20" stroke="#f23645" stroke-width="0.72"/><rect x="93.45" y="487.00" width="6.9" height="17.20" fill="#f23645"/><line x1="106.44" x2="106.44" y1="472.30" y2="485.60" stroke="#f23645" stroke-width="0.72"/><rect x="102.99" y="473.30" width="6.9" height="12.30" fill="#f23645"/><line x1="115.98" x2="115.98" y1="466.40" y2="496.80" stroke="#26c6da" stroke-width="0.72"/><rect x="112.53" y="477.20" width="6.9" height="13.10" fill="#26c6da"/><line x1="125.52" x2="125.52" y1="468.40" y2="486.00" stroke="#f23645" stroke-width="0.72"/><rect x="122.07" y="473.30" width="6.9" height="4.50" fill="#f23645"/><line x1="135.06" x2="135.06" y1="465.00" y2="481.00" stroke="#26c6da" stroke-width="0.72"/><rect x="131.61" y="473.30" width="6.9" height="1.50" fill="#26c6da"/><line x1="144.60" x2="144.60" y1="466.00" y2="490.90" stroke="#26c6da" stroke-width="0.72"/><rect x="141.15" y="466.00" width="6.9" height="20.40" fill="#26c6da"/><line x1="154.14" x2="154.14" y1="481.10" y2="500.70" stroke="#26c6da" stroke-width="0.72"/><rect x="150.69" y="481.10" width="6.9" height="7.20" fill="#26c6da"/><line x1="163.68" x2="163.68" y1="449.40" y2="490.00" stroke="#f23645" stroke-width="0.72"/><rect x="160.23" y="456.00" width="6.9" height="26.70" fill="#f23645"/><line x1="173.22" x2="173.22" y1="433.20" y2="456.30" stroke="#f23645" stroke-width="0.72"/><rect x="169.77" y="442.60" width="6.9" height="13.70" fill="#f23645"/><line x1="182.76" x2="182.76" y1="422.40" y2="441.00" stroke="#f23645" stroke-width="0.72"/><rect x="179.31" y="426.90" width="6.9" height="6.70" fill="#f23645"/><line x1="192.30" x2="192.30" y1="406.70" y2="429.60" stroke="#f23645" stroke-width="0.72"/><rect x="188.85" y="409.70" width="6.9" height="18.00" fill="#f23645"/><line x1="201.84" x2="201.84" y1="409.30" y2="431.20" stroke="#26c6da" stroke-width="0.72"/><rect x="198.39" y="409.30" width="6.9" height="20.30" fill="#26c6da"/><line x1="211.38" x2="211.38" y1="419.50" y2="431.80" stroke="#f23645" stroke-width="0.72"/><rect x="207.93" y="421.40" width="6.9" height="7.30" fill="#f23645"/><line x1="220.92" x2="220.92" y1="415.90" y2="427.90" stroke="#26c6da" stroke-width="0.72"/><rect x="217.47" y="415.90" width="6.9" height="8.60" fill="#26c6da"/><line x1="230.46" x2="230.46" y1="400.00" y2="422.50" stroke="#f23645" stroke-width="0.72"/><rect x="227.01" y="400.00" width="6.9" height="22.00" fill="#f23645"/><line x1="240.00" x2="240.00" y1="392.50" y2="406.25" stroke="#f23645" stroke-width="0.72"/><rect x="236.55" y="403.00" width="6.9" height="3.25" fill="#f23645"/><line x1="249.54" x2="249.54" y1="390.50" y2="405.50" stroke="#f23645" stroke-width="0.72"/><rect x="246.09" y="395.75" width="6.9" height="7.50" fill="#f23645"/><line x1="259.08" x2="259.08" y1="376.25" y2="390.50" stroke="#f23645" stroke-width="0.72"/><rect x="255.63" y="380.50" width="6.9" height="7.50" fill="#f23645"/><line x1="268.62" x2="268.62" y1="353.75" y2="393.75" stroke="#f23645" stroke-width="0.72"/><rect x="265.17" y="362.50" width="6.9" height="31.25" fill="#f23645"/><line x1="278.16" x2="278.16" y1="347.50" y2="371.25" stroke="#f23645" stroke-width="0.72"/><rect x="274.71" y="358.25" width="6.9" height="11.75" fill="#f23645"/><line x1="287.70" x2="287.70" y1="339.50" y2="358.75" stroke="#f23645" stroke-width="0.72"/><rect x="284.25" y="343.75" width="6.9" height="15.00" fill="#f23645"/><line x1="297.24" x2="297.24" y1="317.50" y2="340.50" stroke="#f23645" stroke-width="0.72"/><rect x="293.79" y="333.00" width="6.9" height="5.00" fill="#f23645"/><line x1="306.78" x2="306.78" y1="312.00" y2="338.75" stroke="#f23645" stroke-width="0.72"/><rect x="303.33" y="316.75" width="6.9" height="20.00" fill="#f23645"/><line x1="316.32" x2="316.32" y1="296.25" y2="316.25" stroke="#f23645" stroke-width="0.72"/><rect x="312.87" y="299.50" width="6.9" height="16.75" fill="#f23645"/><line x1="325.86" x2="325.86" y1="270.75" y2="303.00" stroke="#f23645" stroke-width="0.72"/><rect x="322.41" y="270.75" width="6.9" height="32.25" fill="#f23645"/><line x1="335.40" x2="335.40" y1="267.50" y2="291.25" stroke="#26c6da" stroke-width="0.72"/><rect x="331.95" y="267.50" width="6.9" height="14.50" fill="#26c6da"/><line x1="344.94" x2="344.94" y1="281.25" y2="307.00" stroke="#26c6da" stroke-width="0.72"/><rect x="341.49" y="281.25" width="6.9" height="25.75" fill="#26c6da"/><line x1="354.48" x2="354.48" y1="316.25" y2="332.00" stroke="#26c6da" stroke-width="0.72"/><rect x="351.03" y="316.25" width="6.9" height="5.00" fill="#26c6da"/><line x1="364.02" x2="364.02" y1="280.00" y2="317.00" stroke="#f23645" stroke-width="0.72"/><rect x="360.57" y="280.00" width="6.9" height="37.00" fill="#f23645"/><line x1="373.56" x2="373.56" y1="281.25" y2="300.00" stroke="#26c6da" stroke-width="0.72"/><rect x="370.11" y="292.50" width="6.9" height="7.50" fill="#26c6da"/><line x1="383.10" x2="383.10" y1="320.75" y2="343.00" stroke="#26c6da" stroke-width="0.72"/><rect x="379.65" y="328.75" width="6.9" height="14.25" fill="#26c6da"/><line x1="392.64" x2="392.64" y1="343.00" y2="362.50" stroke="#f23645" stroke-width="0.72"/><rect x="389.19" y="343.00" width="6.9" height="7.75" fill="#f23645"/><line x1="402.18" x2="402.18" y1="354.50" y2="367.00" stroke="#26c6da" stroke-width="0.72"/><rect x="398.73" y="354.50" width="6.9" height="10.50" fill="#26c6da"/><line x1="411.72" x2="411.72" y1="360.00" y2="383.00" stroke="#26c6da" stroke-width="0.72"/><rect x="408.27" y="366.50" width="6.9" height="1.20" fill="#26c6da"/><line x1="421.26" x2="421.26" y1="349.25" y2="371.25" stroke="#f23645" stroke-width="0.72"/><rect x="417.81" y="349.25" width="6.9" height="18.75" fill="#f23645"/><line x1="430.80" x2="430.80" y1="331.25" y2="357.00" stroke="#26c6da" stroke-width="0.72"/><rect x="427.35" y="337.50" width="6.9" height="19.50" fill="#26c6da"/><line x1="440.34" x2="440.34" y1="322.00" y2="347.00" stroke="#f23645" stroke-width="0.72"/><rect x="436.89" y="330.00" width="6.9" height="17.00" fill="#f23645"/><line x1="449.88" x2="449.88" y1="295.75" y2="326.25" stroke="#f23645" stroke-width="0.72"/><rect x="446.43" y="305.00" width="6.9" height="18.75" fill="#f23645"/><line x1="459.42" x2="459.42" y1="278.75" y2="302.00" stroke="#26c6da" stroke-width="0.72"/><rect x="455.97" y="296.00" width="6.9" height="1.20" fill="#26c6da"/><line x1="468.96" x2="468.96" y1="290.00" y2="311.00" stroke="#f23645" stroke-width="0.72"/><rect x="465.51" y="300.00" width="6.9" height="3.75" fill="#f23645"/><line x1="478.50" x2="478.50" y1="268.25" y2="298.75" stroke="#26c6da" stroke-width="0.72"/><rect x="475.05" y="268.25" width="6.9" height="26.00" fill="#26c6da"/><line x1="488.04" x2="488.04" y1="231.25" y2="287.50" stroke="#f23645" stroke-width="0.72"/><rect x="484.59" y="250.75" width="6.9" height="30.00" fill="#f23645"/><line x1="497.58" x2="497.58" y1="201.25" y2="233.75" stroke="#26c6da" stroke-width="0.72"/><rect x="494.13" y="217.50" width="6.9" height="1.75" fill="#26c6da"/><line x1="507.12" x2="507.12" y1="205.75" y2="246.25" stroke="#26c6da" stroke-width="0.72"/><rect x="503.67" y="208.75" width="6.9" height="32.50" fill="#26c6da"/><line x1="516.66" x2="516.66" y1="230.00" y2="245.00" stroke="#26c6da" stroke-width="0.72"/><rect x="513.21" y="232.00" width="6.9" height="12.50" fill="#26c6da"/><line x1="526.20" x2="526.20" y1="228.00" y2="250.50" stroke="#26c6da" stroke-width="0.72"/><rect x="522.75" y="245.00" width="6.9" height="1.25" fill="#26c6da"/><line x1="535.74" x2="535.74" y1="237.00" y2="246.25" stroke="#26c6da" stroke-width="0.72"/><rect x="532.29" y="238.00" width="6.9" height="5.25" fill="#26c6da"/><line x1="545.28" x2="545.28" y1="220.75" y2="244.50" stroke="#f23645" stroke-width="0.72"/><rect x="541.83" y="220.75" width="6.9" height="18.75" fill="#f23645"/><line x1="554.82" x2="554.82" y1="227.00" y2="245.00" stroke="#26c6da" stroke-width="0.72"/><rect x="551.37" y="228.00" width="6.9" height="10.25" fill="#26c6da"/><line x1="564.36" x2="564.36" y1="193.75" y2="236.75" stroke="#f23645" stroke-width="0.72"/><rect x="560.91" y="202.50" width="6.9" height="34.25" fill="#f23645"/><line x1="573.90" x2="573.90" y1="191.25" y2="205.75" stroke="#26c6da" stroke-width="0.72"/><rect x="570.45" y="191.25" width="6.9" height="14.50" fill="#26c6da"/><line x1="583.44" x2="583.44" y1="191.25" y2="211.75" stroke="#26c6da" stroke-width="0.72"/><rect x="579.99" y="195.00" width="6.9" height="12.50" fill="#26c6da"/><line x1="592.98" x2="592.98" y1="171.25" y2="203.75" stroke="#f23645" stroke-width="0.72"/><rect x="589.53" y="177.00" width="6.9" height="26.75" fill="#f23645"/><line x1="602.52" x2="602.52" y1="185.75" y2="213.75" stroke="#f23645" stroke-width="0.72"/><rect x="599.07" y="193.25" width="6.9" height="9.25" fill="#f23645"/><line x1="612.06" x2="612.06" y1="195.00" y2="243.00" stroke="#26c6da" stroke-width="0.72"/><rect x="608.61" y="198.25" width="6.9" height="44.75" fill="#26c6da"/><line x1="621.60" x2="621.60" y1="253.75" y2="335.50" stroke="#26c6da" stroke-width="0.72"/><rect x="618.15" y="274.75" width="6.9" height="41.50" fill="#26c6da"/><line x1="631.14" x2="631.14" y1="263.00" y2="301.25" stroke="#26c6da" stroke-width="0.72"/><rect x="627.69" y="268.75" width="6.9" height="22.50" fill="#26c6da"/><line x1="640.68" x2="640.68" y1="305.00" y2="326.25" stroke="#f23645" stroke-width="0.72"/><rect x="637.23" y="305.00" width="6.9" height="1.75" fill="#f23645"/><line x1="650.22" x2="650.22" y1="363.75" y2="395.50" stroke="#f23645" stroke-width="0.72"/><rect x="646.77" y="367.50" width="6.9" height="19.50" fill="#f23645"/><line x1="659.76" x2="659.76" y1="335.75" y2="360.00" stroke="#26c6da" stroke-width="0.72"/><rect x="656.31" y="335.75" width="6.9" height="8.75" fill="#26c6da"/><line x1="669.30" x2="669.30" y1="317.75" y2="340.00" stroke="#26c6da" stroke-width="0.72"/><rect x="665.85" y="323.00" width="6.9" height="9.00" fill="#26c6da"/><line x1="678.84" x2="678.84" y1="349.25" y2="379.50" stroke="#26c6da" stroke-width="0.72"/><rect x="675.39" y="349.25" width="6.9" height="30.25" fill="#26c6da"/><line x1="688.38" x2="688.38" y1="382.50" y2="399.50" stroke="#f23645" stroke-width="0.72"/><rect x="684.93" y="390.00" width="6.9" height="7.50" fill="#f23645"/><line x1="697.92" x2="697.92" y1="372.50" y2="399.50" stroke="#f23645" stroke-width="0.72"/><rect x="694.47" y="386.25" width="6.9" height="1.25" fill="#f23645"/><line x1="707.46" x2="707.46" y1="362.50" y2="385.00" stroke="#26c6da" stroke-width="0.72"/><rect x="704.01" y="383.00" width="6.9" height="2.00" fill="#26c6da"/><line x1="717.00" x2="717.00" y1="345.00" y2="369.50" stroke="#f23645" stroke-width="0.72"/><rect x="713.55" y="345.00" width="6.9" height="24.50" fill="#f23645"/><line x1="726.54" x2="726.54" y1="348.00" y2="371.75" stroke="#26c6da" stroke-width="0.72"/><rect x="723.09" y="365.75" width="6.9" height="6.00" fill="#26c6da"/><line x1="736.08" x2="736.08" y1="375.00" y2="401.75" stroke="#f23645" stroke-width="0.72"/><rect x="732.63" y="380.75" width="6.9" height="6.25" fill="#f23645"/><line x1="745.62" x2="745.62" y1="341.75" y2="363.00" stroke="#26c6da" stroke-width="0.72"/><rect x="742.17" y="341.75" width="6.9" height="4.00" fill="#26c6da"/><line x1="755.16" x2="755.16" y1="307.00" y2="328.25" stroke="#26c6da" stroke-width="0.72"/><rect x="751.71" y="311.25" width="6.9" height="13.75" fill="#26c6da"/><line x1="764.70" x2="764.70" y1="314.50" y2="331.25" stroke="#f23645" stroke-width="0.72"/><rect x="761.25" y="320.50" width="6.9" height="1.50" fill="#f23645"/><line x1="774.24" x2="774.24" y1="287.00" y2="320.00" stroke="#26c6da" stroke-width="0.72"/><rect x="770.79" y="287.00" width="6.9" height="17.50" fill="#26c6da"/><line x1="783.78" x2="783.78" y1="364.25" y2="400.00" stroke="#f23645" stroke-width="0.72"/><rect x="780.33" y="364.25" width="6.9" height="21.25" fill="#f23645"/><line x1="793.32" x2="793.32" y1="360.00" y2="380.50" stroke="#26c6da" stroke-width="0.72"/><rect x="789.87" y="372.00" width="6.9" height="8.50" fill="#26c6da"/><line x1="802.86" x2="802.86" y1="341.25" y2="358.75" stroke="#f23645" stroke-width="0.72"/><rect x="799.41" y="341.25" width="6.9" height="5.50" fill="#f23645"/><line x1="812.40" x2="812.40" y1="314.25" y2="360.75" stroke="#26c6da" stroke-width="0.72"/><rect x="808.95" y="338.75" width="6.9" height="19.25" fill="#26c6da"/><line x1="821.94" x2="821.94" y1="316.25" y2="352.50" stroke="#f23645" stroke-width="0.72"/><rect x="818.49" y="330.50" width="6.9" height="2.00" fill="#f23645"/><line x1="831.48" x2="831.48" y1="296.25" y2="328.75" stroke="#f23645" stroke-width="0.72"/><rect x="828.03" y="314.25" width="6.9" height="7.50" fill="#f23645"/><line x1="841.02" x2="841.02" y1="292.50" y2="313.75" stroke="#f23645" stroke-width="0.72"/><rect x="837.57" y="294.50" width="6.9" height="16.25" fill="#f23645"/><line x1="850.56" x2="850.56" y1="246.25" y2="265.00" stroke="#26c6da" stroke-width="0.72"/><rect x="847.11" y="250.00" width="6.9" height="13.75" fill="#26c6da"/><line x1="860.10" x2="860.10" y1="200.00" y2="258.75" stroke="#f23645" stroke-width="0.72"/><rect x="856.65" y="206.25" width="6.9" height="28.25" fill="#f23645"/><line x1="869.64" x2="869.64" y1="152.00" y2="186.25" stroke="#f23645" stroke-width="0.72"/><rect x="866.19" y="170.50" width="6.9" height="2.50" fill="#f23645"/><line x1="879.18" x2="879.18" y1="160.00" y2="197.50" stroke="#26c6da" stroke-width="0.72"/><rect x="875.73" y="180.00" width="6.9" height="17.50" fill="#26c6da"/><line x1="888.72" x2="888.72" y1="186.25" y2="211.25" stroke="#26c6da" stroke-width="0.72"/><rect x="885.27" y="194.25" width="6.9" height="17.00" fill="#26c6da"/><line x1="898.26" x2="898.26" y1="195.00" y2="232.00" stroke="#26c6da" stroke-width="0.72"/><rect x="894.81" y="207.50" width="6.9" height="24.50" fill="#26c6da"/><line x1="907.80" x2="907.80" y1="227.50" y2="259.50" stroke="#26c6da" stroke-width="0.72"/><rect x="904.35" y="232.00" width="6.9" height="27.50" fill="#26c6da"/><line x1="917.34" x2="917.34" y1="253.25" y2="274.50" stroke="#26c6da" stroke-width="0.72"/><rect x="913.89" y="260.00" width="6.9" height="14.50" fill="#26c6da"/><rect x="1014.41" y="151.90" width="0.00" height="8.9" fill="#2962ff" fill-opacity="0.72"/><rect x="1014.41" y="151.90" width="2.59" height="8.9" fill="#f23645" fill-opacity="0.72"/><rect x="1008.21" y="161.34" width="4.40" height="8.9" fill="#2962ff" fill-opacity="0.72"/><rect x="1012.60" y="161.34" width="4.40" height="8.9" fill="#f23645" fill-opacity="0.72"/><rect x="997.86" y="170.78" width="4.40" height="8.9" fill="#2962ff" fill-opacity="0.72"/><rect x="1002.26" y="170.78" width="14.74" height="8.9" fill="#f23645" fill-opacity="0.72"/><rect x="1008.21" y="180.22" width="3.10" height="8.9" fill="#2962ff" fill-opacity="0.72"/><rect x="1011.31" y="180.22" width="5.69" height="8.9" fill="#f23645" fill-opacity="0.72"/><rect x="992.69" y="189.66" width="13.71" height="8.9" fill="#2962ff" fill-opacity="0.72"/><rect x="1006.40" y="189.66" width="10.60" height="8.9" fill="#f23645" fill-opacity="0.72"/><rect x="971.23" y="199.10" width="24.57" height="8.9" fill="#2962ff" fill-opacity="0.72"/><rect x="995.79" y="199.10" width="21.21" height="8.9" fill="#f23645" fill-opacity="0.72"/><rect x="990.62" y="208.54" width="11.64" height="8.9" fill="#2962ff" fill-opacity="0.72"/><rect x="1002.26" y="208.54" width="14.74" height="8.9" fill="#f23645" fill-opacity="0.72"/><rect x="1000.45" y="217.98" width="5.95" height="8.9" fill="#2962ff" fill-opacity="0.72"/><rect x="1006.40" y="217.98" width="10.60" height="8.9" fill="#f23645" fill-opacity="0.72"/><rect x="993.98" y="227.42" width="11.64" height="8.9" fill="#2962ff" fill-opacity="0.72"/><rect x="1005.62" y="227.42" width="11.38" height="8.9" fill="#f23645" fill-opacity="0.72"/><rect x="986.23" y="236.86" width="16.03" height="8.9" fill="#2962ff" fill-opacity="0.72"/><rect x="1002.26" y="236.86" width="14.74" height="8.9" fill="#f23645" fill-opacity="0.72"/><rect x="1005.62" y="246.30" width="5.95" height="8.9" fill="#2962ff" fill-opacity="0.72"/><rect x="1011.57" y="246.30" width="5.43" height="8.9" fill="#f23645" fill-opacity="0.72"/><rect x="997.09" y="255.74" width="14.48" height="8.9" fill="#2962ff" fill-opacity="0.72"/><rect x="1011.57" y="255.74" width="5.43" height="8.9" fill="#f23645" fill-opacity="0.72"/><rect x="1004.33" y="265.18" width="5.43" height="8.9" fill="#2962ff" fill-opacity="0.72"/><rect x="1009.76" y="265.18" width="7.24" height="8.9" fill="#f23645" fill-opacity="0.72"/><rect x="993.98" y="274.62" width="9.05" height="8.9" fill="#2962ff" fill-opacity="0.72"/><rect x="1003.04" y="274.62" width="13.96" height="8.9" fill="#f23645" fill-opacity="0.72"/><rect x="987.52" y="284.06" width="20.17" height="8.9" fill="#2962ff" fill-opacity="0.72"/><rect x="1007.69" y="284.06" width="9.31" height="8.9" fill="#f23645" fill-opacity="0.72"/><rect x="964.50" y="293.50" width="28.70" height="8.9" fill="#2962ff" fill-opacity="0.72"/><rect x="993.21" y="293.50" width="23.79" height="8.9" fill="#f23645" fill-opacity="0.72"/><rect x="961.14" y="302.94" width="35.17" height="8.9" fill="#2962ff" fill-opacity="0.72"/><rect x="996.31" y="302.94" width="20.69" height="8.9" fill="#f23645" fill-opacity="0.72"/><rect x="943.82" y="312.38" width="36.98" height="8.9" fill="#2962ff" fill-opacity="0.72"/><rect x="980.80" y="312.38" width="36.20" height="8.9" fill="#f23645" fill-opacity="0.72"/><rect x="951.57" y="321.82" width="30.51" height="8.9" fill="#2962ff" fill-opacity="0.72"/><rect x="982.09" y="321.82" width="34.91" height="8.9" fill="#f23645" fill-opacity="0.72"/><rect x="992.69" y="331.26" width="11.64" height="8.9" fill="#2962ff" fill-opacity="0.72"/><rect x="1004.33" y="331.26" width="12.67" height="8.9" fill="#f23645" fill-opacity="0.72"/><rect x="971.23" y="340.70" width="24.57" height="8.9" fill="#2962ff" fill-opacity="0.72"/><rect x="995.79" y="340.70" width="21.21" height="8.9" fill="#f23645" fill-opacity="0.72"/><rect x="938.39" y="350.14" width="48.36" height="8.9" fill="#2962ff" fill-opacity="0.72"/><rect x="986.74" y="350.14" width="30.26" height="8.9" fill="#f23645" fill-opacity="0.72"/><rect x="954.94" y="359.58" width="28.45" height="8.9" fill="#2962ff" fill-opacity="0.72"/><rect x="983.38" y="359.58" width="33.62" height="8.9" fill="#f23645" fill-opacity="0.72"/><rect x="960.63" y="369.02" width="20.95" height="8.9" fill="#2962ff" fill-opacity="0.72"/><rect x="981.57" y="369.02" width="35.43" height="8.9" fill="#f23645" fill-opacity="0.72"/><rect x="921.06" y="378.46" width="34.13" height="8.9" fill="#2962ff" fill-opacity="0.72"/><rect x="955.19" y="378.46" width="61.81" height="8.9" fill="#f23645" fill-opacity="0.72"/><rect x="950.80" y="387.90" width="23.53" height="8.9" fill="#2962ff" fill-opacity="0.72"/><rect x="974.33" y="387.90" width="42.67" height="8.9" fill="#f23645" fill-opacity="0.72"/><rect x="991.40" y="397.34" width="10.86" height="8.9" fill="#2962ff" fill-opacity="0.72"/><rect x="1002.26" y="397.34" width="14.74" height="8.9" fill="#f23645" fill-opacity="0.72"/><rect x="1011.05" y="406.78" width="1.81" height="8.9" fill="#2962ff" fill-opacity="0.72"/><rect x="1012.86" y="406.78" width="4.14" height="8.9" fill="#f23645" fill-opacity="0.72"/><rect x="1007.69" y="416.22" width="5.17" height="8.9" fill="#2962ff" fill-opacity="0.72"/><rect x="1012.86" y="416.22" width="4.14" height="8.9" fill="#f23645" fill-opacity="0.72"/><rect x="1006.91" y="425.66" width="5.17" height="8.9" fill="#2962ff" fill-opacity="0.72"/><rect x="1012.09" y="425.66" width="4.91" height="8.9" fill="#f23645" fill-opacity="0.72"/><rect x="1009.50" y="435.10" width="5.43" height="8.9" fill="#2962ff" fill-opacity="0.72"/><rect x="1014.93" y="435.10" width="2.07" height="8.9" fill="#f23645" fill-opacity="0.72"/><rect x="1014.16" y="444.54" width="1.29" height="8.9" fill="#2962ff" fill-opacity="0.72"/><rect x="1015.45" y="444.54" width="1.55" height="8.9" fill="#f23645" fill-opacity="0.72"/><rect x="1014.93" y="453.98" width="0.78" height="8.9" fill="#2962ff" fill-opacity="0.72"/><rect x="1015.71" y="453.98" width="1.29" height="8.9" fill="#f23645" fill-opacity="0.72"/><rect x="1009.50" y="463.42" width="5.43" height="8.9" fill="#2962ff" fill-opacity="0.72"/><rect x="1014.93" y="463.42" width="2.07" height="8.9" fill="#f23645" fill-opacity="0.72"/><rect x="999.93" y="472.86" width="7.76" height="8.9" fill="#2962ff" fill-opacity="0.72"/><rect x="1007.69" y="472.86" width="9.31" height="8.9" fill="#f23645" fill-opacity="0.72"/><rect x="1001.74" y="482.30" width="9.83" height="8.9" fill="#2962ff" fill-opacity="0.72"/><rect x="1011.57" y="482.30" width="5.43" height="8.9" fill="#f23645" fill-opacity="0.72"/><rect x="1012.35" y="491.74" width="2.59" height="8.9" fill="#2962ff" fill-opacity="0.72"/><rect x="1014.93" y="491.74" width="2.07" height="8.9" fill="#f23645" fill-opacity="0.72"/><rect x="1008.21" y="501.18" width="4.14" height="8.9" fill="#2962ff" fill-opacity="0.72"/><rect x="1012.35" y="501.18" width="4.65" height="8.9" fill="#f23645" fill-opacity="0.72"/><rect x="990.11" y="510.62" width="13.71" height="8.9" fill="#2962ff" fill-opacity="0.72"/><rect x="1003.81" y="510.62" width="13.19" height="8.9" fill="#f23645" fill-opacity="0.72"/><rect x="1001.74" y="520.06" width="9.05" height="8.9" fill="#2962ff" fill-opacity="0.72"/><rect x="1010.79" y="520.06" width="6.21" height="8.9" fill="#f23645" fill-opacity="0.72"/><rect x="1015.45" y="529.50" width="1.03" height="8.9" fill="#2962ff" fill-opacity="0.72"/><rect x="1016.48" y="529.50" width="0.52" height="8.9" fill="#f23645" fill-opacity="0.72"/><path d="M869.6,90.6 L873.3,139.4 L877.5,139.4 L869.6,151.4 L861.7,139.4 L865.9,139.4 Z" fill="#fff"/></g><text x="15.40" y="47.53" font-size="7.9" font-weight="normal" fill="#e6e6e6" stroke="#e6e6e6" stroke-width="0.28" text-anchor="start" textLength="19.4" lengthAdjust="spacingAndGlyphs" >2,880</text><text x="15.40" y="74.55" font-size="7.9" font-weight="normal" fill="#e6e6e6" stroke="#e6e6e6" stroke-width="0.28" text-anchor="start" textLength="19.4" lengthAdjust="spacingAndGlyphs" >2,840</text><text x="15.40" y="101.58" font-size="7.9" font-weight="normal" fill="#e6e6e6" stroke="#e6e6e6" stroke-width="0.28" text-anchor="start" textLength="19.4" lengthAdjust="spacingAndGlyphs" >2,800</text><text x="15.40" y="128.60" font-size="7.9" font-weight="normal" fill="#e6e6e6" stroke="#e6e6e6" stroke-width="0.28" text-anchor="start" textLength="19.4" lengthAdjust="spacingAndGlyphs" >2,760</text><text x="15.40" y="209.67" font-size="7.9" font-weight="normal" fill="#e6e6e6" stroke="#e6e6e6" stroke-width="0.28" text-anchor="start" textLength="19.4" lengthAdjust="spacingAndGlyphs" >2,640</text><text x="15.40" y="344.79" font-size="7.9" font-weight="normal" fill="#e6e6e6" stroke="#e6e6e6" stroke-width="0.28" text-anchor="start" textLength="19.4" lengthAdjust="spacingAndGlyphs" >2,440</text><text x="15.40" y="371.82" font-size="7.9" font-weight="normal" fill="#e6e6e6" stroke="#e6e6e6" stroke-width="0.28" text-anchor="start" textLength="19.4" lengthAdjust="spacingAndGlyphs" >2,400</text><text x="15.40" y="398.84" font-size="7.9" font-weight="normal" fill="#e6e6e6" stroke="#e6e6e6" stroke-width="0.28" text-anchor="start" textLength="19.4" lengthAdjust="spacingAndGlyphs" >2,360</text><text x="15.40" y="425.87" font-size="7.9" font-weight="normal" fill="#e6e6e6" stroke="#e6e6e6" stroke-width="0.28" text-anchor="start" textLength="19.4" lengthAdjust="spacingAndGlyphs" >2,320</text><text x="15.40" y="452.89" font-size="7.9" font-weight="normal" fill="#e6e6e6" stroke="#e6e6e6" stroke-width="0.28" text-anchor="start" textLength="19.4" lengthAdjust="spacingAndGlyphs" >2,280</text><text x="15.40" y="479.91" font-size="7.9" font-weight="normal" fill="#e6e6e6" stroke="#e6e6e6" stroke-width="0.28" text-anchor="start" textLength="19.4" lengthAdjust="spacingAndGlyphs" >2,240</text><text x="15.40" y="533.96" font-size="7.9" font-weight="normal" fill="#e6e6e6" stroke="#e6e6e6" stroke-width="0.28" text-anchor="start" textLength="19.4" lengthAdjust="spacingAndGlyphs" >2,160</text><text x="15.40" y="560.99" font-size="7.9" font-weight="normal" fill="#e6e6e6" stroke="#e6e6e6" stroke-width="0.28" text-anchor="start" textLength="19.4" lengthAdjust="spacingAndGlyphs" >2,120</text><text x="15.40" y="588.01" font-size="7.9" font-weight="normal" fill="#e6e6e6" stroke="#e6e6e6" stroke-width="0.28" text-anchor="start" textLength="19.4" lengthAdjust="spacingAndGlyphs" >2,080</text><text x="15.40" y="615.03" font-size="7.9" font-weight="normal" fill="#e6e6e6" stroke="#e6e6e6" stroke-width="0.28" text-anchor="start" textLength="19.4" lengthAdjust="spacingAndGlyphs" >2,040</text><text x="15.40" y="642.06" font-size="7.9" font-weight="normal" fill="#e6e6e6" stroke="#e6e6e6" stroke-width="0.28" text-anchor="start" textLength="19.4" lengthAdjust="spacingAndGlyphs" >2,000</text><text x="15.40" y="669.08" font-size="7.9" font-weight="normal" fill="#e6e6e6" stroke="#e6e6e6" stroke-width="0.28" text-anchor="start" textLength="19.4" lengthAdjust="spacingAndGlyphs" >1,960</text><text x="15.40" y="696.11" font-size="7.9" font-weight="normal" fill="#e6e6e6" stroke="#e6e6e6" stroke-width="0.28" text-anchor="start" textLength="19.4" lengthAdjust="spacingAndGlyphs" >1,920</text><rect x="12.1" y="109.00" width="27.9" height="10.6" fill="#5b9cf6" rx="0.8"/><text x="15.40" y="116.00" font-size="7.9" font-weight="normal" fill="#fff" stroke="#fff" stroke-width="0.28" text-anchor="start" textLength="19.4" lengthAdjust="spacingAndGlyphs" >2,778</text><rect x="12.1" y="146.40" width="27.9" height="10.6" fill="#14336e" rx="0.8"/><text x="15.40" y="153.40" font-size="7.9" font-weight="normal" fill="#fff" stroke="#fff" stroke-width="0.28" text-anchor="start" textLength="19.4" lengthAdjust="spacingAndGlyphs" >2,723</text><rect x="12.1" y="174.40" width="27.9" height="10.6" fill="#f23645" rx="0.8"/><text x="15.40" y="181.40" font-size="7.9" font-weight="normal" fill="#fff" stroke="#fff" stroke-width="0.28" text-anchor="start" textLength="19.4" lengthAdjust="spacingAndGlyphs" >2,682</text><rect x="12.1" y="213.30" width="27.9" height="10.6" fill="#2962ff" rx="0.8"/><text x="15.40" y="220.30" font-size="7.9" font-weight="normal" fill="#fff" stroke="#fff" stroke-width="0.28" text-anchor="start" textLength="19.4" lengthAdjust="spacingAndGlyphs" >2,603</text><rect x="12.1" y="224.70" width="27.9" height="10.6" fill="#ffffff" rx="0.8"/><text x="15.40" y="231.70" font-size="7.9" font-weight="normal" fill="#111" stroke="#111" stroke-width="0.28" text-anchor="start" textLength="19.4" lengthAdjust="spacingAndGlyphs" >2,600</text><rect x="12.1" y="235.80" width="27.9" height="10.6" fill="#00bcd4" rx="0.8"/><text x="15.40" y="242.80" font-size="7.9" font-weight="normal" fill="#10262a" stroke="#10262a" stroke-width="0.28" text-anchor="start" textLength="19.4" lengthAdjust="spacingAndGlyphs" >2,585</text><rect x="12.1" y="246.90" width="27.9" height="10.6" fill="#a5d6a7" rx="0.8"/><text x="15.40" y="253.90" font-size="7.9" font-weight="normal" fill="#1b2b1c" stroke="#1b2b1c" stroke-width="0.28" text-anchor="start" textLength="19.4" lengthAdjust="spacingAndGlyphs" >2,570</text><rect x="12.1" y="257.80" width="27.9" height="10.6" fill="#f7a1a7" rx="0.8"/><text x="15.40" y="264.80" font-size="7.9" font-weight="normal" fill="#33191b" stroke="#33191b" stroke-width="0.28" text-anchor="start" textLength="19.4" lengthAdjust="spacingAndGlyphs" >2,541</text><rect x="12.1" y="268.90" width="27.9" height="10.6" fill="#26c6da" rx="0.8"/><text x="15.40" y="275.90" font-size="7.9" font-weight="normal" fill="#0d2a2e" stroke="#0d2a2e" stroke-width="0.28" text-anchor="start" textLength="19.4" lengthAdjust="spacingAndGlyphs" >2,541</text><rect x="12.1" y="279.70" width="27.9" height="10.6" fill="#b71c1c" rx="0.8"/><text x="15.40" y="286.70" font-size="7.9" font-weight="normal" fill="#fff" stroke="#fff" stroke-width="0.28" text-anchor="start" textLength="19.4" lengthAdjust="spacingAndGlyphs" >2,537</text><rect x="12.1" y="290.90" width="27.9" height="10.6" fill="#b39ddb" rx="0.8"/><text x="15.40" y="297.90" font-size="7.9" font-weight="normal" fill="#231d30" stroke="#231d30" stroke-width="0.28" text-anchor="start" textLength="19.4" lengthAdjust="spacingAndGlyphs" >2,537</text><rect x="12.1" y="302.00" width="27.9" height="10.6" fill="#ff9800" rx="0.8"/><text x="15.40" y="309.00" font-size="7.9" font-weight="normal" fill="#2d1b00" stroke="#2d1b00" stroke-width="0.28" text-anchor="start" textLength="19.4" lengthAdjust="spacingAndGlyphs" >2,515</text><rect x="12.1" y="313.10" width="27.9" height="10.6" fill="#089981" rx="0.8"/><text x="15.40" y="320.10" font-size="7.9" font-weight="normal" fill="#fff" stroke="#fff" stroke-width="0.28" text-anchor="start" textLength="19.4" lengthAdjust="spacingAndGlyphs" >2,492</text><rect x="12.1" y="324.10" width="27.9" height="10.6" fill="#ffeb3b" rx="0.8"/><text x="15.40" y="331.10" font-size="7.9" font-weight="normal" fill="#2f2b08" stroke="#2f2b08" stroke-width="0.28" text-anchor="start" textLength="19.4" lengthAdjust="spacingAndGlyphs" >2,489</text><rect x="12.1" y="370.20" width="27.9" height="10.6" fill="#00bcd4" rx="0.8"/><text x="15.40" y="377.20" font-size="7.9" font-weight="normal" fill="#10262a" stroke="#10262a" stroke-width="0.28" text-anchor="start" textLength="19.4" lengthAdjust="spacingAndGlyphs" >2,392</text><rect x="12.1" y="422.70" width="27.9" height="10.6" fill="#ff9800" rx="0.8"/><text x="15.40" y="429.70" font-size="7.9" font-weight="normal" fill="#2d1b00" stroke="#2d1b00" stroke-width="0.28" text-anchor="start" textLength="19.4" lengthAdjust="spacingAndGlyphs" >2,314</text><rect x="12.1" y="434.70" width="27.9" height="10.6" fill="#f23645" rx="0.8"/><text x="15.40" y="441.70" font-size="7.9" font-weight="normal" fill="#fff" stroke="#fff" stroke-width="0.28" text-anchor="start" textLength="19.4" lengthAdjust="spacingAndGlyphs" >2,295</text><rect x="12.1" y="500.50" width="27.9" height="10.6" fill="#5b9cf6" rx="0.8"/><text x="15.40" y="507.50" font-size="7.9" font-weight="normal" fill="#fff" stroke="#fff" stroke-width="0.28" text-anchor="start" textLength="19.4" lengthAdjust="spacingAndGlyphs" >2,199</text><rect x="12.1" y="534.10" width="27.9" height="10.6" fill="#14336e" rx="0.8"/><text x="15.40" y="541.10" font-size="7.9" font-weight="normal" fill="#fff" stroke="#fff" stroke-width="0.28" text-anchor="start" textLength="19.4" lengthAdjust="spacingAndGlyphs" >2,149</text><rect x="41.2" y="146.4" width="19.9" height="10.6" fill="#14336e" rx="0.8"/><text x="43.60" y="154.20" font-size="7.6" font-family="'Liberation Sans','Noto Sans CJK JP',sans-serif" font-weight="normal" fill="#e8ecf5" stroke="#e8ecf5" stroke-width="0.2" text-anchor="start" textLength="15.2" lengthAdjust="spacingAndGlyphs">高値</text><rect x="41.2" y="534.1" width="19.9" height="10.6" fill="#14336e" rx="0.8"/><text x="43.60" y="541.90" font-size="7.6" font-family="'Liberation Sans','Noto Sans CJK JP',sans-serif" font-weight="normal" fill="#e8ecf5" stroke="#e8ecf5" stroke-width="0.2" text-anchor="start" textLength="15.2" lengthAdjust="spacingAndGlyphs">安値</text><rect x="9.9" y="714.3" width="30.1" height="10.7" fill="#ef5350" rx="0.8"/><text x="13.90" y="721.50" font-size="7.9" font-weight="normal" fill="#fff" stroke="#fff" stroke-width="0.28" text-anchor="start" textLength="21.0" lengthAdjust="spacingAndGlyphs" >38.8K</text><rect x="9.3" y="1.4" width="28.3" height="17" rx="2.4" fill="#0e0e0e" stroke="#2e2e2e" stroke-width="0.9"/><text x="15.10" y="13.00" font-size="8.4" font-weight="normal" fill="#cdcdcd" text-anchor="start" textLength="12.6" lengthAdjust="spacingAndGlyphs" >JPY</text><rect x="20.1" y="21" width="1.5" height="1" fill="#8a8a8a"/><text x="39.80" y="746.60" font-size="7.8" font-family="'Liberation Sans','Noto Sans CJK JP',sans-serif" font-weight="normal" fill="#e0e0e0" stroke="#e0e0e0" stroke-width="0.2" text-anchor="start">月</text><text x="77.82" y="746.40" font-size="7.9" font-weight="normal" fill="#e0e0e0" stroke="#e0e0e0" stroke-width="0.28" text-anchor="middle" >5</text><text x="115.98" y="746.40" font-size="7.9" font-weight="normal" fill="#e0e0e0" stroke="#e0e0e0" stroke-width="0.28" text-anchor="middle" >11</text><text x="154.14" y="746.40" font-size="7.9" font-weight="normal" fill="#e0e0e0" stroke="#e0e0e0" stroke-width="0.28" text-anchor="middle" >17</text><text x="192.30" y="746.40" font-size="7.9" font-weight="normal" fill="#e0e0e0" stroke="#e0e0e0" stroke-width="0.28" text-anchor="middle" >23</text><text x="249.54" y="746.40" font-size="7.9" font-weight="normal" fill="#e0e0e0" stroke="#e0e0e0" stroke-width="0.28" text-anchor="middle" >2026</text><text x="287.70" y="746.40" font-size="7.9" font-weight="normal" fill="#e0e0e0" stroke="#e0e0e0" stroke-width="0.28" text-anchor="middle" >9</text><text x="325.86" y="746.40" font-size="7.9" font-weight="normal" fill="#e0e0e0" stroke="#e0e0e0" stroke-width="0.28" text-anchor="middle" >16</text><text x="364.02" y="746.40" font-size="7.9" font-weight="normal" fill="#e0e0e0" stroke="#e0e0e0" stroke-width="0.28" text-anchor="middle" >22</text><text x="468.96" y="746.40" font-size="7.9" font-weight="normal" fill="#e0e0e0" stroke="#e0e0e0" stroke-width="0.28" text-anchor="middle" >6</text><text x="507.12" y="746.40" font-size="7.9" font-weight="normal" fill="#e0e0e0" stroke="#e0e0e0" stroke-width="0.28" text-anchor="middle" >13</text><text x="545.28" y="746.40" font-size="7.9" font-weight="normal" fill="#e0e0e0" stroke="#e0e0e0" stroke-width="0.28" text-anchor="middle" >19</text><text x="640.68" y="746.40" font-size="7.9" font-weight="normal" fill="#e0e0e0" stroke="#e0e0e0" stroke-width="0.28" text-anchor="middle" >6</text><text x="678.84" y="746.40" font-size="7.9" font-weight="normal" fill="#e0e0e0" stroke="#e0e0e0" stroke-width="0.28" text-anchor="middle" >12</text><text x="717.00" y="746.40" font-size="7.9" font-weight="normal" fill="#e0e0e0" stroke="#e0e0e0" stroke-width="0.28" text-anchor="middle" >18</text><text x="755.16" y="746.40" font-size="7.9" font-weight="normal" fill="#e0e0e0" stroke="#e0e0e0" stroke-width="0.28" text-anchor="middle" >25</text><text x="841.02" y="746.40" font-size="7.9" font-weight="normal" fill="#e0e0e0" stroke="#e0e0e0" stroke-width="0.28" text-anchor="middle" >7</text><text x="879.18" y="746.40" font-size="7.9" font-weight="normal" fill="#e0e0e0" stroke="#e0e0e0" stroke-width="0.28" text-anchor="middle" >13</text><text x="917.34" y="746.40" font-size="7.9" font-weight="normal" fill="#e0e0e0" stroke="#e0e0e0" stroke-width="0.28" text-anchor="middle" >17</text><text x="955.50" y="746.40" font-size="7.9" font-weight="normal" fill="#e0e0e0" stroke="#e0e0e0" stroke-width="0.28" text-anchor="middle" >23</text><text x="424.80" y="746.40" font-size="7.9" font-weight="normal" fill="#e0e0e0" stroke="#e0e0e0" stroke-width="0.28" text-anchor="start" >2</text><text x="429.30" y="746.60" font-size="7.8" font-family="'Liberation Sans','Noto Sans CJK JP',sans-serif" font-weight="normal" fill="#e0e0e0" stroke="#e0e0e0" stroke-width="0.2" text-anchor="start">月</text><text x="596.52" y="746.40" font-size="7.9" font-weight="normal" fill="#e0e0e0" stroke="#e0e0e0" stroke-width="0.28" text-anchor="start" >3</text><text x="601.02" y="746.60" font-size="7.8" font-family="'Liberation Sans','Noto Sans CJK JP',sans-serif" font-weight="normal" fill="#e0e0e0" stroke="#e0e0e0" stroke-width="0.2" text-anchor="start">月</text><text x="796.86" y="746.40" font-size="7.9" font-weight="normal" fill="#e0e0e0" stroke="#e0e0e0" stroke-width="0.28" text-anchor="start" >4</text><text x="801.36" y="746.60" font-size="7.8" font-family="'Liberation Sans','Noto Sans CJK JP',sans-serif" font-weight="normal" fill="#e0e0e0" stroke="#e0e0e0" stroke-width="0.2" text-anchor="start">月</text><text x="997.20" y="746.40" font-size="7.9" font-weight="normal" fill="#e0e0e0" stroke="#e0e0e0" stroke-width="0.28" text-anchor="start" >5</text><text x="1001.70" y="746.60" font-size="7.8" font-family="'Liberation Sans','Noto Sans CJK JP',sans-serif" font-weight="normal" fill="#e0e0e0" stroke="#e0e0e0" stroke-width="0.2" text-anchor="start">月</text><rect x="482.5" y="720.2" width="11.7" height="11.9" rx="1.8" fill="#111" stroke="#8a8a8a" stroke-width="1.3"/><text x="488.40" y="728.90" font-size="7.8" font-weight="normal" fill="#cfcfcf" stroke="#cfcfcf" stroke-width="0.28" text-anchor="middle" >E</text><circle cx="784.1" cy="726.2" r="6.15" fill="#080808" stroke="#2048dc" stroke-width="1.7"/><text x="784.40" y="729.30" font-size="8.6" font-weight="normal" fill="#2450e6" stroke="#2450e6" stroke-width="0.28" text-anchor="middle" >D</text><circle cx="917.9" cy="726.2" r="6.4" fill="#0b0b0b" stroke="#9c37b0" stroke-width="1.5"/><path d="M920.1,722.9 L915.0,726.5 L917.6,727.0 L916.0,729.9 L920.7,726.3 L918.2,725.8 Z" fill="#b040c8"/><text x="45.90" y="11.60" font-size="8.1" font-family="'Liberation Sans','Noto Sans CJK JP',sans-serif" font-weight="normal" fill="#e8e8e8" stroke="#e8e8e8" stroke-width="0.2" text-anchor="start" textLength="46.4" lengthAdjust="spacingAndGlyphs">オイレス工業</text><text x="96.30" y="11.40" font-size="8.6" font-weight="normal" fill="#e8e8e8" stroke="#e8e8e8" stroke-width="0.28" text-anchor="middle" >·</text><text x="101.30" y="11.40" font-size="8.6" font-weight="normal" fill="#e8e8e8" stroke="#e8e8e8" stroke-width="0.28" text-anchor="start" >1</text><text x="105.30" y="11.60" font-size="8.1" font-family="'Liberation Sans','Noto Sans CJK JP',sans-serif" font-weight="normal" fill="#e8e8e8" stroke="#e8e8e8" stroke-width="0.2" text-anchor="start" textLength="6.0" lengthAdjust="spacingAndGlyphs">日</text><text x="116.10" y="11.40" font-size="8.6" font-weight="normal" fill="#e8e8e8" stroke="#e8e8e8" stroke-width="0.28" text-anchor="middle" >·</text><text x="120.20" y="11.40" font-size="8.6" font-weight="normal" fill="#e8e8e8" stroke="#e8e8e8" stroke-width="0.28" text-anchor="start" textLength="11.7" lengthAdjust="spacingAndGlyphs" >TSE</text><text x="137.20" y="11.60" font-size="8" font-family="'Liberation Sans','Noto Sans CJK JP',sans-serif" font-weight="normal" fill="#e8e8e8" stroke="#e8e8e8" stroke-width="0.2" text-anchor="start" textLength="15.4" lengthAdjust="spacingAndGlyphs">始値</text><text x="152.80" y="11.40" font-size="8.6" font-weight="normal" fill="#22abc0" stroke="#22abc0" stroke-width="0.28" text-anchor="start" textLength="18.9" lengthAdjust="spacingAndGlyphs" >2,563</text><text x="177.00" y="11.60" font-size="8" font-family="'Liberation Sans','Noto Sans CJK JP',sans-serif" font-weight="normal" fill="#e8e8e8" stroke="#e8e8e8" stroke-width="0.2" text-anchor="start" textLength="15.4" lengthAdjust="spacingAndGlyphs">高値</text><text x="192.30" y="11.40" font-size="8.6" font-weight="normal" fill="#22abc0" stroke="#22abc0" stroke-width="0.28" text-anchor="start" textLength="18.8" lengthAdjust="spacingAndGlyphs" >2,572</text><text x="216.60" y="11.60" font-size="8" font-family="'Liberation Sans','Noto Sans CJK JP',sans-serif" font-weight="normal" fill="#e8e8e8" stroke="#e8e8e8" stroke-width="0.2" text-anchor="start" textLength="15.4" lengthAdjust="spacingAndGlyphs">安値</text><text x="231.90" y="11.40" font-size="8.6" font-weight="normal" fill="#22abc0" stroke="#22abc0" stroke-width="0.28" text-anchor="start" textLength="18.7" lengthAdjust="spacingAndGlyphs" >2,541</text><text x="256.40" y="11.60" font-size="8" font-family="'Liberation Sans','Noto Sans CJK JP',sans-serif" font-weight="normal" fill="#e8e8e8" stroke="#e8e8e8" stroke-width="0.2" text-anchor="start" textLength="15.4" lengthAdjust="spacingAndGlyphs">終値</text><text x="271.70" y="11.40" font-size="8.6" font-weight="normal" fill="#22abc0" stroke="#22abc0" stroke-width="0.28" text-anchor="start" textLength="18.5" lengthAdjust="spacingAndGlyphs" >2,541</text><text x="296.30" y="11.40" font-size="8.6" font-weight="normal" fill="#22abc0" stroke="#22abc0" stroke-width="0.28" text-anchor="start" textLength="43.9" lengthAdjust="spacingAndGlyphs" >−23 (−0.90%)</text><text x="45.90" y="22.42" font-size="8.6" font-weight="normal" fill="#e8e8e8" stroke="#e8e8e8" stroke-width="0.28" text-anchor="start" textLength="134.7" lengthAdjust="spacingAndGlyphs" >VRVP (Number Of Rows, 40, Up/Down)</text><text x="185.60" y="22.42" font-size="8.6" font-weight="normal" fill="#a01f2d" stroke="#a01f2d" stroke-width="0.28" text-anchor="start" textLength="24.7" lengthAdjust="spacingAndGlyphs" >56.74K</text><text x="215.00" y="22.42" font-size="8.6" font-weight="normal" fill="#1f3fb0" stroke="#1f3fb0" stroke-width="0.28" text-anchor="start" textLength="25.0" lengthAdjust="spacingAndGlyphs" >41.77K</text><text x="245.00" y="22.42" font-size="8.6" font-weight="normal" fill="#474747" stroke="#474747" stroke-width="0.28" text-anchor="start" textLength="25.0" lengthAdjust="spacingAndGlyphs" >98.51K</text><text x="45.90" y="33.44" font-size="8.6" font-weight="normal" fill="#e8e8e8" stroke="#e8e8e8" stroke-width="0.28" text-anchor="start" textLength="49.1" lengthAdjust="spacingAndGlyphs" >SMA (5, close)</text><text x="99.80" y="33.44" font-size="8.6" font-weight="normal" fill="#ffffff" stroke="#ffffff" stroke-width="0.28" text-anchor="start" textLength="19.1" lengthAdjust="spacingAndGlyphs" >2,600</text><text x="45.90" y="44.46" font-size="8.6" font-weight="normal" fill="#e8e8e8" stroke="#e8e8e8" stroke-width="0.28" text-anchor="start" textLength="53.1" lengthAdjust="spacingAndGlyphs" >SMA (25, close)</text><text x="103.75" y="44.46" font-size="8.6" font-weight="normal" fill="#f2de35" stroke="#f2de35" stroke-width="0.28" text-anchor="start" textLength="19.0" lengthAdjust="spacingAndGlyphs" >2,489</text><text x="45.90" y="55.48" font-size="8.6" font-weight="normal" fill="#e8e8e8" stroke="#e8e8e8" stroke-width="0.28" text-anchor="start" textLength="53.1" lengthAdjust="spacingAndGlyphs" >SMA (75, close)</text><text x="103.75" y="55.48" font-size="8.6" font-weight="normal" fill="#089981" stroke="#089981" stroke-width="0.28" text-anchor="start" textLength="19.0" lengthAdjust="spacingAndGlyphs" >2,492</text><text x="45.90" y="66.50" font-size="8.6" font-weight="normal" fill="#e8e8e8" stroke="#e8e8e8" stroke-width="0.28" text-anchor="start" textLength="57.1" lengthAdjust="spacingAndGlyphs" >SMA (200, close)</text><text x="108.00" y="66.50" font-size="8.6" font-weight="normal" fill="#f29000" stroke="#f29000" stroke-width="0.28" text-anchor="start" textLength="18.7" lengthAdjust="spacingAndGlyphs" >2,314</text><text x="45.90" y="77.72" font-size="8" font-family="'Liberation Sans','Noto Sans CJK JP',sans-serif" font-weight="normal" fill="#e8e8e8" stroke="#e8e8e8" stroke-width="0.2" text-anchor="start" textLength="39.1" lengthAdjust="spacingAndGlyphs">一目均衡表</text><circle cx="87.2" cy="75.42" r="1.8" fill="none" stroke="#e8e8e8" stroke-width="0.6"/><path d="M86.2,74.42 l2,2 m0,-2 l-2,2" stroke="#e8e8e8" stroke-width="0.5"/><text x="93.10" y="77.52" font-size="8.6" font-weight="normal" fill="#e8e8e8" stroke="#e8e8e8" stroke-width="0.28" text-anchor="start" textLength="50.0" lengthAdjust="spacingAndGlyphs" >(9, 26, 52, 26)</text><text x="148.30" y="77.52" font-size="8.6" font-weight="normal" fill="#2962ff" stroke="#2962ff" stroke-width="0.28" text-anchor="start" textLength="18.3" lengthAdjust="spacingAndGlyphs" >2,603</text><text x="172.00" y="77.52" font-size="8.6" font-weight="normal" fill="#c62828" stroke="#c62828" stroke-width="0.28" text-anchor="start" textLength="18.8" lengthAdjust="spacingAndGlyphs" >2,537</text><text x="195.90" y="77.52" font-size="8.6" font-weight="normal" fill="#f7a1a7" stroke="#f7a1a7" stroke-width="0.28" text-anchor="start" textLength="18.6" lengthAdjust="spacingAndGlyphs" >2,541</text><text x="219.80" y="77.52" font-size="8.6" font-weight="normal" fill="#a5d6a7" stroke="#a5d6a7" stroke-width="0.28" text-anchor="start" textLength="19.3" lengthAdjust="spacingAndGlyphs" >2,570</text><text x="243.70" y="77.52" font-size="8.6" font-weight="normal" fill="#b39ddb" stroke="#b39ddb" stroke-width="0.28" text-anchor="start" textLength="19.3" lengthAdjust="spacingAndGlyphs" >2,537</text><text x="45.90" y="88.74" font-size="8" font-family="'Liberation Sans','Noto Sans CJK JP',sans-serif" font-weight="normal" fill="#e8e8e8" stroke="#e8e8e8" stroke-width="0.2" text-anchor="start" textLength="23.0" lengthAdjust="spacingAndGlyphs">出来高</text><text x="74.00" y="88.54" font-size="8.6" font-weight="normal" fill="#ef5350" stroke="#ef5350" stroke-width="0.28" text-anchor="start" textLength="21.0" lengthAdjust="spacingAndGlyphs" >38.8K</text><text x="45.90" y="99.56" font-size="8.6" font-weight="normal" fill="#e8e8e8" stroke="#e8e8e8" stroke-width="0.28" text-anchor="start" textLength="76.1" lengthAdjust="spacingAndGlyphs" >BB (25, SMA, close, 1)</text><text x="127.00" y="99.56" font-size="8.6" font-weight="normal" fill="#00bcd4" stroke="#00bcd4" stroke-width="0.28" text-anchor="start" textLength="19.2" lengthAdjust="spacingAndGlyphs" >2,585</text><text x="151.40" y="99.56" font-size="8.6" font-weight="normal" fill="#00bcd4" stroke="#00bcd4" stroke-width="0.28" text-anchor="start" textLength="18.8" lengthAdjust="spacingAndGlyphs" >2,392</text><text x="45.90" y="110.58" font-size="8.6" font-weight="normal" fill="#e8e8e8" stroke="#e8e8e8" stroke-width="0.28" text-anchor="start" textLength="76.1" lengthAdjust="spacingAndGlyphs" >BB (25, SMA, close, 2)</text><text x="127.00" y="110.58" font-size="8.6" font-weight="normal" fill="#f23645" stroke="#f23645" stroke-width="0.28" text-anchor="start" textLength="19.2" lengthAdjust="spacingAndGlyphs" >2,682</text><text x="151.40" y="110.58" font-size="8.6" font-weight="normal" fill="#f23645" stroke="#f23645" stroke-width="0.28" text-anchor="start" textLength="18.8" lengthAdjust="spacingAndGlyphs" >2,295</text><text x="45.90" y="121.60" font-size="8.6" font-weight="normal" fill="#e8e8e8" stroke="#e8e8e8" stroke-width="0.28" text-anchor="start" textLength="76.1" lengthAdjust="spacingAndGlyphs" >BB (25, SMA, close, 3)</text><text x="127.00" y="121.60" font-size="8.6" font-weight="normal" fill="#4f8fe8" stroke="#4f8fe8" stroke-width="0.28" text-anchor="start" textLength="19.2" lengthAdjust="spacingAndGlyphs" >2,778</text><text x="151.40" y="121.60" font-size="8.6" font-weight="normal" fill="#4f8fe8" stroke="#4f8fe8" stroke-width="0.28" text-anchor="start" textLength="18.8" lengthAdjust="spacingAndGlyphs" >2,199</text><path d="M7.9,767.1 h8.6 v9.5 h-4.3 v-5.2 h-4.3 Z" fill="#d6d6d6"/><circle cx="19.3" cy="769.2" r="2.1" fill="#d6d6d6"/><path d="M22.6,767.1 h4.9 l-4,9.5 h-4.9 Z" fill="#d6d6d6"/><text x="32.30" y="777.20" font-size="13.2" font-weight="normal" fill="#d6d6d6" text-anchor="start" textLength="77.0" lengthAdjust="spacingAndGlyphs" stroke="#d6d6d6" stroke-width="0.45">TradingView</text></svg></body></html>
